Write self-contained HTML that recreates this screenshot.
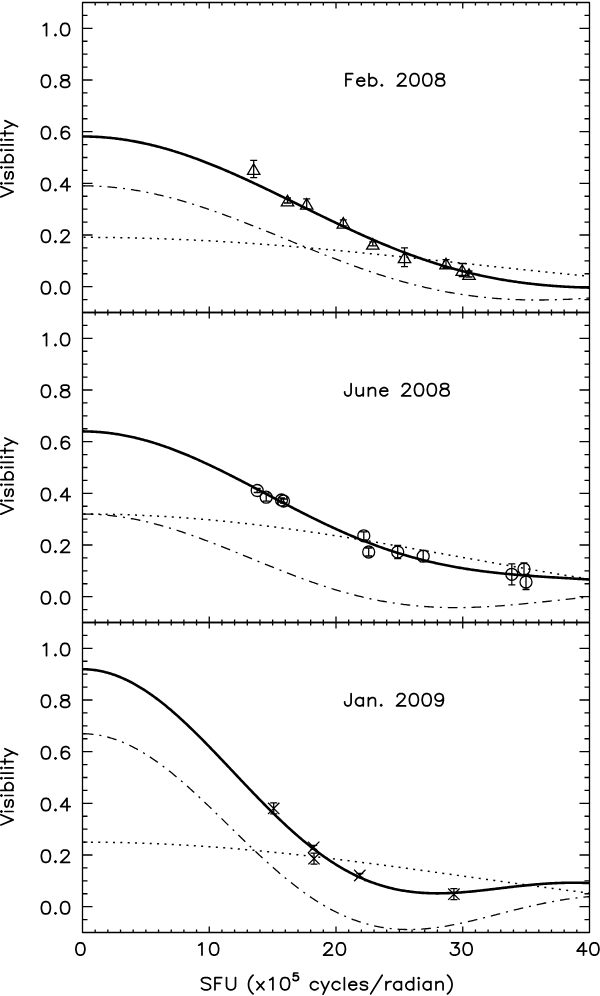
<!DOCTYPE html><html><head><meta charset="utf-8"><style>html,body{margin:0;padding:0;background:#fff;}svg{display:block;}text{font-family:"Liberation Sans",sans-serif;}</style></head><body>
<svg width="600" height="996" viewBox="0 0 600 996">
<rect width="600" height="996" fill="#fff"/>
<path d="M95.17,312.50v-3 M95.17,2.50v3 M107.85,312.50v-3 M107.85,2.50v3 M120.53,312.50v-3 M120.53,2.50v3 M133.20,312.50v-3 M133.20,2.50v3 M145.88,312.50v-3 M145.88,2.50v3 M158.55,312.50v-3 M158.55,2.50v3 M171.23,312.50v-3 M171.23,2.50v3 M183.90,312.50v-3 M183.90,2.50v3 M196.57,312.50v-3 M196.57,2.50v3 M209.25,312.50v-6 M209.25,2.50v6 M221.93,312.50v-3 M221.93,2.50v3 M234.60,312.50v-3 M234.60,2.50v3 M247.28,312.50v-3 M247.28,2.50v3 M259.95,312.50v-3 M259.95,2.50v3 M272.62,312.50v-3 M272.62,2.50v3 M285.30,312.50v-3 M285.30,2.50v3 M297.98,312.50v-3 M297.98,2.50v3 M310.65,312.50v-3 M310.65,2.50v3 M323.33,312.50v-3 M323.33,2.50v3 M336.00,312.50v-6 M336.00,2.50v6 M348.68,312.50v-3 M348.68,2.50v3 M361.35,312.50v-3 M361.35,2.50v3 M374.03,312.50v-3 M374.03,2.50v3 M386.70,312.50v-3 M386.70,2.50v3 M399.38,312.50v-3 M399.38,2.50v3 M412.05,312.50v-3 M412.05,2.50v3 M424.73,312.50v-3 M424.73,2.50v3 M437.40,312.50v-3 M437.40,2.50v3 M450.08,312.50v-3 M450.08,2.50v3 M462.75,312.50v-6 M462.75,2.50v6 M475.43,312.50v-3 M475.43,2.50v3 M488.10,312.50v-3 M488.10,2.50v3 M500.78,312.50v-3 M500.78,2.50v3 M513.45,312.50v-3 M513.45,2.50v3 M526.12,312.50v-3 M526.12,2.50v3 M538.80,312.50v-3 M538.80,2.50v3 M551.48,312.50v-3 M551.48,2.50v3 M564.15,312.50v-3 M564.15,2.50v3 M576.83,312.50v-3 M576.83,2.50v3 M82.50,299.58h5 M589.50,299.58h-5 M82.50,286.67h10 M589.50,286.67h-10 M82.50,273.75h5 M589.50,273.75h-5 M82.50,260.83h5 M589.50,260.83h-5 M82.50,247.92h5 M589.50,247.92h-5 M82.50,235.00h10 M589.50,235.00h-10 M82.50,222.08h5 M589.50,222.08h-5 M82.50,209.17h5 M589.50,209.17h-5 M82.50,196.25h5 M589.50,196.25h-5 M82.50,183.33h10 M589.50,183.33h-10 M82.50,170.42h5 M589.50,170.42h-5 M82.50,157.50h5 M589.50,157.50h-5 M82.50,144.58h5 M589.50,144.58h-5 M82.50,131.67h10 M589.50,131.67h-10 M82.50,118.75h5 M589.50,118.75h-5 M82.50,105.83h5 M589.50,105.83h-5 M82.50,92.92h5 M589.50,92.92h-5 M82.50,80.00h10 M589.50,80.00h-10 M82.50,67.08h5 M589.50,67.08h-5 M82.50,54.17h5 M589.50,54.17h-5 M82.50,41.25h5 M589.50,41.25h-5 M82.50,28.33h10 M589.50,28.33h-10 M82.50,15.42h5 M589.50,15.42h-5" stroke="#000" stroke-width="1.3" fill="none"/>
<rect x="82.5" y="2.5" width="507.0" height="310.0" stroke="#000" stroke-width="1.3" fill="none" stroke-linejoin="round"/>
<path d="M82.50,136.50 L83.77,136.50 85.03,136.51 86.30,136.52 87.57,136.54 88.84,136.57 90.11,136.60 91.37,136.64 92.64,136.69 93.91,136.74 95.17,136.79 96.44,136.85 97.71,136.92 98.98,136.99 100.25,137.07 101.51,137.16 102.78,137.25 104.05,137.34 105.31,137.45 106.58,137.55 107.85,137.67 109.12,137.79 110.39,137.91 111.65,138.04 112.92,138.18 114.19,138.32 115.46,138.47 116.72,138.63 117.99,138.79 119.26,138.95 120.53,139.12 121.79,139.30 123.06,139.48 124.33,139.67 125.59,139.86 126.86,140.06 128.13,140.26 129.40,140.47 130.67,140.69 131.93,140.91 133.20,141.14 134.47,141.37 135.74,141.61 137.00,141.85 138.27,142.10 139.54,142.35 140.81,142.61 142.07,142.87 143.34,143.14 144.61,143.42 145.88,143.70 147.14,143.98 148.41,144.27 149.68,144.57 150.94,144.87 152.21,145.17 153.48,145.48 154.75,145.80 156.02,146.12 157.28,146.44 158.55,146.78 159.82,147.11 161.09,147.45 162.35,147.80 163.62,148.15 164.89,148.50 166.16,148.86 167.42,149.23 168.69,149.59 169.96,149.97 171.23,150.35 172.49,150.73 173.76,151.12 175.03,151.51 176.30,151.91 177.56,152.31 178.83,152.71 180.10,153.12 181.37,153.54 182.63,153.95 183.90,154.38 185.17,154.80 186.44,155.23 187.70,155.67 188.97,156.11 190.24,156.55 191.50,157.00 192.77,157.45 194.04,157.91 195.31,158.37 196.57,158.83 197.84,159.30 199.11,159.77 200.38,160.24 201.65,160.72 202.91,161.20 204.18,161.69 205.45,162.18 206.72,162.67 207.98,163.17 209.25,163.67 210.52,164.17 211.79,164.67 213.05,165.18 214.32,165.70 215.59,166.21 216.86,166.73 218.12,167.26 219.39,167.78 220.66,168.31 221.93,168.84 223.19,169.38 224.46,169.91 225.73,170.45 227.00,171.00 228.26,171.54 229.53,172.09 230.80,172.64 232.07,173.20 233.33,173.75 234.60,174.31 235.87,174.87 237.14,175.44 238.40,176.00 239.67,176.57 240.94,177.14 242.21,177.72 243.47,178.29 244.74,178.87 246.01,179.45 247.28,180.03 248.54,180.61 249.81,181.20 251.08,181.79 252.35,182.38 253.61,182.97 254.88,183.56 256.15,184.15 257.42,184.75 258.68,185.35 259.95,185.95 261.22,186.55 262.49,187.15 263.75,187.75 265.02,188.36 266.29,188.97 267.56,189.57 268.82,190.18 270.09,190.79 271.36,191.40 272.62,192.02 273.89,192.63 275.16,193.24 276.43,193.86 277.70,194.47 278.96,195.09 280.23,195.71 281.50,196.32 282.76,196.94 284.03,197.56 285.30,198.18 286.57,198.80 287.84,199.42 289.10,200.04 290.37,200.67 291.64,201.29 292.91,201.91 294.17,202.53 295.44,203.15 296.71,203.78 297.98,204.40 299.24,205.02 300.51,205.65 301.78,206.27 303.05,206.89 304.31,207.51 305.58,208.14 306.85,208.76 308.12,209.38 309.38,210.00 310.65,210.62 311.92,211.24 313.19,211.86 314.45,212.48 315.72,213.10 316.99,213.72 318.25,214.33 319.52,214.95 320.79,215.57 322.06,216.18 323.33,216.80 324.59,217.41 325.86,218.02 327.13,218.63 328.40,219.24 329.66,219.85 330.93,220.46 332.20,221.07 333.47,221.68 334.73,222.28 336.00,222.88 337.27,223.49 338.54,224.09 339.80,224.69 341.07,225.28 342.34,225.88 343.61,226.48 344.87,227.07 346.14,227.66 347.41,228.25 348.68,228.84 349.94,229.43 351.21,230.01 352.48,230.59 353.75,231.18 355.01,231.76 356.28,232.33 357.55,232.91 358.81,233.48 360.08,234.05 361.35,234.62 362.62,235.19 363.89,235.76 365.15,236.32 366.42,236.88 367.69,237.44 368.96,238.00 370.22,238.55 371.49,239.10 372.76,239.65 374.03,240.20 375.29,240.75 376.56,241.29 377.83,241.83 379.10,242.37 380.36,242.90 381.63,243.43 382.90,243.96 384.17,244.49 385.43,245.02 386.70,245.54 387.97,246.06 389.24,246.57 390.50,247.09 391.77,247.60 393.04,248.11 394.31,248.61 395.57,249.12 396.84,249.62 398.11,250.11 399.38,250.61 400.64,251.10 401.91,251.59 403.18,252.07 404.45,252.55 405.71,253.03 406.98,253.51 408.25,253.98 409.52,254.45 410.78,254.92 412.05,255.38 413.32,255.84 414.59,256.30 415.85,256.75 417.12,257.20 418.39,257.65 419.66,258.10 420.92,258.54 422.19,258.98 423.46,259.41 424.73,259.84 425.99,260.27 427.26,260.69 428.53,261.12 429.80,261.53 431.06,261.95 432.33,262.36 433.60,262.77 434.87,263.17 436.13,263.57 437.40,263.97 438.67,264.37 439.94,264.76 441.20,265.14 442.47,265.53 443.74,265.91 445.01,266.29 446.27,266.66 447.54,267.03 448.81,267.40 450.08,267.76 451.34,268.12 452.61,268.47 453.88,268.83 455.15,269.18 456.41,269.52 457.68,269.86 458.95,270.20 460.22,270.54 461.48,270.87 462.75,271.20 464.02,271.52 465.29,271.84 466.55,272.16 467.82,272.47 469.09,272.78 470.36,273.09 471.62,273.39 472.89,273.69 474.16,273.99 475.43,274.28 476.69,274.57 477.96,274.86 479.23,275.14 480.50,275.42 481.76,275.69 483.03,275.97 484.30,276.23 485.57,276.50 486.83,276.76 488.10,277.02 489.37,277.27 490.64,277.52 491.90,277.77 493.17,278.02 494.44,278.26 495.71,278.49 496.97,278.73 498.24,278.96 499.51,279.19 500.78,279.41 502.04,279.63 503.31,279.85 504.58,280.06 505.85,280.27 507.11,280.48 508.38,280.68 509.65,280.88 510.92,281.08 512.18,281.27 513.45,281.46 514.72,281.65 515.99,281.83 517.25,282.01 518.52,282.19 519.79,282.37 521.06,282.54 522.32,282.71 523.59,282.87 524.86,283.03 526.12,283.19 527.39,283.35 528.66,283.50 529.93,283.65 531.19,283.80 532.46,283.94 533.73,284.08 535.00,284.22 536.27,284.35 537.53,284.48 538.80,284.61 540.07,284.74 541.34,284.86 542.60,284.98 543.87,285.10 545.14,285.21 546.40,285.33 547.67,285.43 548.94,285.54 550.21,285.64 551.48,285.74 552.74,285.84 554.01,285.94 555.28,286.03 556.55,286.12 557.81,286.21 559.08,286.29 560.35,286.38 561.62,286.46 562.88,286.53 564.15,286.61 565.42,286.68 566.69,286.75 567.95,286.82 569.22,286.88 570.49,286.95 571.76,287.01 573.02,287.07 574.29,287.12 575.56,287.18 576.83,287.23 578.09,287.28 579.36,287.32 580.63,287.37 581.90,287.41 583.16,287.45 584.43,287.49 585.70,287.53 586.97,287.56 588.23,287.60 589.50,287.63" stroke="#000" stroke-width="2.6" fill="none" stroke-linejoin="round"/>
<path d="M82.50,185.81h2" stroke="#000" stroke-width="1.3"/>
<path d="M82.50,185.81 L83.77,185.82 85.03,185.82 86.30,185.84 87.57,185.85 88.84,185.88 90.11,185.91 91.37,185.94 92.64,185.98 93.91,186.02 95.17,186.07 96.44,186.12 97.71,186.18 98.98,186.25 100.25,186.32 101.51,186.39 102.78,186.47 104.05,186.56 105.31,186.65 106.58,186.74 107.85,186.84 109.12,186.95 110.39,187.06 111.65,187.17 112.92,187.29 114.19,187.42 115.46,187.55 116.72,187.68 117.99,187.82 119.26,187.97 120.53,188.12 121.79,188.27 123.06,188.43 124.33,188.59 125.59,188.76 126.86,188.94 128.13,189.12 129.40,189.30 130.67,189.49 131.93,189.68 133.20,189.88 134.47,190.09 135.74,190.29 137.00,190.51 138.27,190.72 139.54,190.94 140.81,191.17 142.07,191.40 143.34,191.64 144.61,191.88 145.88,192.12 147.14,192.37 148.41,192.63 149.68,192.88 150.94,193.15 152.21,193.41 153.48,193.68 154.75,193.96 156.02,194.24 157.28,194.52 158.55,194.81 159.82,195.11 161.09,195.40 162.35,195.70 163.62,196.01 164.89,196.32 166.16,196.63 167.42,196.95 168.69,197.27 169.96,197.60 171.23,197.93 172.49,198.26 173.76,198.60 175.03,198.94 176.30,199.29 177.56,199.64 178.83,199.99 180.10,200.34 181.37,200.71 182.63,201.07 183.90,201.44 185.17,201.81 186.44,202.18 187.70,202.56 188.97,202.94 190.24,203.33 191.50,203.72 192.77,204.11 194.04,204.50 195.31,204.90 196.57,205.30 197.84,205.71 199.11,206.11 200.38,206.53 201.65,206.94 202.91,207.36 204.18,207.78 205.45,208.20 206.72,208.63 207.98,209.06 209.25,209.49 210.52,209.92 211.79,210.36 213.05,210.80 214.32,211.24 215.59,211.69 216.86,212.13 218.12,212.59 219.39,213.04 220.66,213.49 221.93,213.95 223.19,214.41 224.46,214.87 225.73,215.34 227.00,215.81 228.26,216.27 229.53,216.75 230.80,217.22 232.07,217.69 233.33,218.17 234.60,218.65 235.87,219.13 237.14,219.61 238.40,220.10 239.67,220.59 240.94,221.07 242.21,221.56 243.47,222.06 244.74,222.55 246.01,223.04 247.28,223.54 248.54,224.04 249.81,224.54 251.08,225.04 252.35,225.54 253.61,226.04 254.88,226.55 256.15,227.05 257.42,227.56 258.68,228.06 259.95,228.57 261.22,229.08 262.49,229.59 263.75,230.10 265.02,230.62 266.29,231.13 267.56,231.64 268.82,232.16 270.09,232.67 271.36,233.19 272.62,233.70 273.89,234.22 275.16,234.74 276.43,235.26 277.70,235.77 278.96,236.29 280.23,236.81 281.50,237.33 282.76,237.85 284.03,238.37 285.30,238.89 286.57,239.40 287.84,239.92 289.10,240.44 290.37,240.96 291.64,241.48 292.91,242.00 294.17,242.52 295.44,243.03 296.71,243.55 297.98,244.07 299.24,244.59 300.51,245.10 301.78,245.62 303.05,246.13 304.31,246.65 305.58,247.16 306.85,247.68 308.12,248.19 309.38,248.70 310.65,249.21 311.92,249.72 313.19,250.23 314.45,250.74 315.72,251.25 316.99,251.76 318.25,252.26 319.52,252.77 320.79,253.27 322.06,253.77 323.33,254.27 324.59,254.77 325.86,255.27 327.13,255.77 328.40,256.26 329.66,256.76 330.93,257.25 332.20,257.74 333.47,258.23 334.73,258.72 336.00,259.20 337.27,259.69 338.54,260.17 339.80,260.65 341.07,261.13 342.34,261.61 343.61,262.08 344.87,262.56 346.14,263.03 347.41,263.50 348.68,263.97 349.94,264.43 351.21,264.90 352.48,265.36 353.75,265.82 355.01,266.28 356.28,266.73 357.55,267.18 358.81,267.64 360.08,268.08 361.35,268.53 362.62,268.97 363.89,269.42 365.15,269.85 366.42,270.29 367.69,270.72 368.96,271.16 370.22,271.59 371.49,272.01 372.76,272.44 374.03,272.86 375.29,273.28 376.56,273.69 377.83,274.10 379.10,274.51 380.36,274.92 381.63,275.33 382.90,275.73 384.17,276.13 385.43,276.53 386.70,276.92 387.97,277.31 389.24,277.70 390.50,278.08 391.77,278.46 393.04,278.84 394.31,279.22 395.57,279.59 396.84,279.96 398.11,280.33 399.38,280.69 400.64,281.05 401.91,281.41 403.18,281.76 404.45,282.11 405.71,282.46 406.98,282.80 408.25,283.15 409.52,283.48 410.78,283.82 412.05,284.15 413.32,284.48 414.59,284.80 415.85,285.12 417.12,285.44 418.39,285.76 419.66,286.07 420.92,286.38 422.19,286.68 423.46,286.98 424.73,287.28 425.99,287.58 427.26,287.87 428.53,288.15 429.80,288.44 431.06,288.72 432.33,289.00 433.60,289.27 434.87,289.54 436.13,289.81 437.40,290.07 438.67,290.33 439.94,290.59 441.20,290.84 442.47,291.09 443.74,291.33 445.01,291.58 446.27,291.82 447.54,292.05 448.81,292.28 450.08,292.51 451.34,292.74 452.61,292.96 453.88,293.17 455.15,293.39 456.41,293.60 457.68,293.81 458.95,294.01 460.22,294.21 461.48,294.40 462.75,294.60 464.02,294.79 465.29,294.97 466.55,295.15 467.82,295.33 469.09,295.51 470.36,295.68 471.62,295.85 472.89,296.01 474.16,296.17 475.43,296.33 476.69,296.49 477.96,296.64 479.23,296.78 480.50,296.93 481.76,297.07 483.03,297.20 484.30,297.34 485.57,297.47 486.83,297.59 488.10,297.72 489.37,297.84 490.64,297.95 491.90,298.07 493.17,298.18 494.44,298.28 495.71,298.39 496.97,298.48 498.24,298.58 499.51,298.67 500.78,298.76 502.04,298.85 503.31,298.93 504.58,299.01 505.85,299.09 507.11,299.16 508.38,299.23 509.65,299.30 510.92,299.36 512.18,299.43 513.45,299.48 514.72,299.54 515.99,299.59 517.25,299.64 518.52,299.68 519.79,299.72 521.06,299.76 522.32,299.80 523.59,299.83 524.86,299.86 526.12,299.89 527.39,299.92 528.66,299.94 529.93,299.96 531.19,299.97 532.46,299.98 533.73,299.99 535.00,300.00 536.27,300.01 537.53,300.01 538.80,300.01 540.07,300.00 541.34,300.00 542.60,299.99 543.87,299.98 545.14,299.96 546.40,299.94 547.67,299.92 548.94,299.90 550.21,299.88 551.48,299.85 552.74,299.82 554.01,299.79 555.28,299.76 556.55,299.72 557.81,299.68 559.08,299.64 560.35,299.59 561.62,299.55 562.88,299.50 564.15,299.45 565.42,299.40 566.69,299.34 567.95,299.29 569.22,299.23 570.49,299.16 571.76,299.10 573.02,299.04 574.29,298.97 575.56,298.90 576.83,298.83 578.09,298.75 579.36,298.68 580.63,298.60 581.90,298.52 583.16,298.44 584.43,298.36 585.70,298.28 586.97,298.19 588.23,298.10 589.50,298.01" stroke="#000" stroke-width="1.3" fill="none" stroke-dasharray="9.7 5.98 2 5.97" stroke-dashoffset="-1.3"/>
<path d="M82.50,237.35 L83.77,237.35 85.03,237.35 86.30,237.35 87.57,237.36 88.84,237.36 90.11,237.36 91.37,237.37 92.64,237.37 93.91,237.38 95.17,237.39 96.44,237.39 97.71,237.40 98.98,237.41 100.25,237.42 101.51,237.43 102.78,237.44 104.05,237.45 105.31,237.47 106.58,237.48 107.85,237.49 109.12,237.51 110.39,237.52 111.65,237.54 112.92,237.56 114.19,237.57 115.46,237.59 116.72,237.61 117.99,237.63 119.26,237.65 120.53,237.67 121.79,237.69 123.06,237.72 124.33,237.74 125.59,237.76 126.86,237.79 128.13,237.81 129.40,237.84 130.67,237.87 131.93,237.89 133.20,237.92 134.47,237.95 135.74,237.98 137.00,238.01 138.27,238.04 139.54,238.07 140.81,238.10 142.07,238.14 143.34,238.17 144.61,238.21 145.88,238.24 147.14,238.28 148.41,238.31 149.68,238.35 150.94,238.39 152.21,238.43 153.48,238.46 154.75,238.50 156.02,238.55 157.28,238.59 158.55,238.63 159.82,238.67 161.09,238.71 162.35,238.76 163.62,238.80 164.89,238.85 166.16,238.89 167.42,238.94 168.69,238.99 169.96,239.04 171.23,239.08 172.49,239.13 173.76,239.18 175.03,239.23 176.30,239.29 177.56,239.34 178.83,239.39 180.10,239.44 181.37,239.50 182.63,239.55 183.90,239.61 185.17,239.66 186.44,239.72 187.70,239.78 188.97,239.83 190.24,239.89 191.50,239.95 192.77,240.01 194.04,240.07 195.31,240.13 196.57,240.19 197.84,240.26 199.11,240.32 200.38,240.38 201.65,240.45 202.91,240.51 204.18,240.58 205.45,240.64 206.72,240.71 207.98,240.78 209.25,240.84 210.52,240.91 211.79,240.98 213.05,241.05 214.32,241.12 215.59,241.19 216.86,241.26 218.12,241.34 219.39,241.41 220.66,241.48 221.93,241.56 223.19,241.63 224.46,241.71 225.73,241.78 227.00,241.86 228.26,241.94 229.53,242.01 230.80,242.09 232.07,242.17 233.33,242.25 234.60,242.33 235.87,242.41 237.14,242.49 238.40,242.57 239.67,242.65 240.94,242.74 242.21,242.82 243.47,242.90 244.74,242.99 246.01,243.07 247.28,243.16 248.54,243.24 249.81,243.33 251.08,243.42 252.35,243.50 253.61,243.59 254.88,243.68 256.15,243.77 257.42,243.86 258.68,243.95 259.95,244.04 261.22,244.13 262.49,244.22 263.75,244.32 265.02,244.41 266.29,244.50 267.56,244.60 268.82,244.69 270.09,244.79 271.36,244.88 272.62,244.98 273.89,245.07 275.16,245.17 276.43,245.27 277.70,245.37 278.96,245.46 280.23,245.56 281.50,245.66 282.76,245.76 284.03,245.86 285.30,245.96 286.57,246.06 287.84,246.17 289.10,246.27 290.37,246.37 291.64,246.47 292.91,246.58 294.17,246.68 295.44,246.79 296.71,246.89 297.98,247.00 299.24,247.10 300.51,247.21 301.78,247.32 303.05,247.42 304.31,247.53 305.58,247.64 306.85,247.75 308.12,247.85 309.38,247.96 310.65,248.07 311.92,248.18 313.19,248.29 314.45,248.40 315.72,248.52 316.99,248.63 318.25,248.74 319.52,248.85 320.79,248.97 322.06,249.08 323.33,249.19 324.59,249.31 325.86,249.42 327.13,249.53 328.40,249.65 329.66,249.77 330.93,249.88 332.20,250.00 333.47,250.11 334.73,250.23 336.00,250.35 337.27,250.47 338.54,250.58 339.80,250.70 341.07,250.82 342.34,250.94 343.61,251.06 344.87,251.18 346.14,251.30 347.41,251.42 348.68,251.54 349.94,251.66 351.21,251.78 352.48,251.90 353.75,252.02 355.01,252.15 356.28,252.27 357.55,252.39 358.81,252.51 360.08,252.64 361.35,252.76 362.62,252.88 363.89,253.01 365.15,253.13 366.42,253.26 367.69,253.38 368.96,253.51 370.22,253.63 371.49,253.76 372.76,253.89 374.03,254.01 375.29,254.14 376.56,254.26 377.83,254.39 379.10,254.52 380.36,254.65 381.63,254.77 382.90,254.90 384.17,255.03 385.43,255.16 386.70,255.29 387.97,255.42 389.24,255.54 390.50,255.67 391.77,255.80 393.04,255.93 394.31,256.06 395.57,256.19 396.84,256.32 398.11,256.45 399.38,256.58 400.64,256.71 401.91,256.85 403.18,256.98 404.45,257.11 405.71,257.24 406.98,257.37 408.25,257.50 409.52,257.63 410.78,257.77 412.05,257.90 413.32,258.03 414.59,258.16 415.85,258.30 417.12,258.43 418.39,258.56 419.66,258.69 420.92,258.83 422.19,258.96 423.46,259.09 424.73,259.23 425.99,259.36 427.26,259.49 428.53,259.63 429.80,259.76 431.06,259.90 432.33,260.03 433.60,260.16 434.87,260.30 436.13,260.43 437.40,260.57 438.67,260.70 439.94,260.84 441.20,260.97 442.47,261.11 443.74,261.24 445.01,261.38 446.27,261.51 447.54,261.65 448.81,261.78 450.08,261.92 451.34,262.05 452.61,262.19 453.88,262.32 455.15,262.46 456.41,262.59 457.68,262.73 458.95,262.86 460.22,263.00 461.48,263.13 462.75,263.27 464.02,263.40 465.29,263.54 466.55,263.67 467.82,263.81 469.09,263.94 470.36,264.08 471.62,264.21 472.89,264.35 474.16,264.48 475.43,264.62 476.69,264.75 477.96,264.89 479.23,265.02 480.50,265.16 481.76,265.29 483.03,265.43 484.30,265.56 485.57,265.70 486.83,265.83 488.10,265.97 489.37,266.10 490.64,266.24 491.90,266.37 493.17,266.51 494.44,266.64 495.71,266.78 496.97,266.91 498.24,267.04 499.51,267.18 500.78,267.31 502.04,267.45 503.31,267.58 504.58,267.71 505.85,267.85 507.11,267.98 508.38,268.11 509.65,268.25 510.92,268.38 512.18,268.51 513.45,268.65 514.72,268.78 515.99,268.91 517.25,269.04 518.52,269.18 519.79,269.31 521.06,269.44 522.32,269.57 523.59,269.70 524.86,269.84 526.12,269.97 527.39,270.10 528.66,270.23 529.93,270.36 531.19,270.49 532.46,270.62 533.73,270.75 535.00,270.88 536.27,271.01 537.53,271.14 538.80,271.27 540.07,271.40 541.34,271.53 542.60,271.66 543.87,271.79 545.14,271.92 546.40,272.05 547.67,272.18 548.94,272.30 550.21,272.43 551.48,272.56 552.74,272.69 554.01,272.82 555.28,272.94 556.55,273.07 557.81,273.20 559.08,273.32 560.35,273.45 561.62,273.57 562.88,273.70 564.15,273.83 565.42,273.95 566.69,274.08 567.95,274.20 569.22,274.33 570.49,274.45 571.76,274.57 573.02,274.70 574.29,274.82 575.56,274.94 576.83,275.07 578.09,275.19 579.36,275.31 580.63,275.43 581.90,275.56 583.16,275.68 584.43,275.80 585.70,275.92 586.97,276.04 588.23,276.16 589.50,276.28" stroke="#000" stroke-width="1.5" fill="none" stroke-dasharray="2 5.3556" stroke-dashoffset="-1.05"/>
<path d="M247.50,174.30L253.70,163.70L259.90,174.30ZM253.70,160.30V177.70M250.20,160.30h7M250.20,177.70h7M281.30,205.80L287.50,195.20L293.70,205.80ZM287.50,198.00V203.00M284.00,198.00h7M284.00,203.00h7M300.50,209.10L306.70,198.50L312.90,209.10ZM306.70,198.80V208.80M303.20,198.80h7M303.20,208.80h7M337.10,228.10L343.30,217.50L349.50,228.10ZM343.30,219.80V225.80M339.80,219.80h7M339.80,225.80h7M366.60,249.20L372.80,238.60L379.00,249.20ZM372.80,241.90V245.90M369.30,241.90h7M369.30,245.90h7M398.30,262.60L404.50,252.00L410.70,262.60ZM404.50,247.90V266.70M401.00,247.90h7M401.00,266.70h7M439.80,268.90L446.00,258.30L452.20,268.90ZM446.00,259.60V267.60M442.50,259.60h7M442.50,267.60h7M456.00,275.30L462.20,264.70L468.40,275.30ZM462.20,263.50V276.50M458.70,263.50h7M458.70,276.50h7M462.80,279.30L469.00,268.70L475.20,279.30ZM469.00,271.00V277.00M465.50,271.00h7M465.50,277.00h7" stroke="#000" stroke-width="1.3" fill="none"/>
<path d="M45.23,281.70L43.31,282.29 42.03,284.04 41.39,286.96 41.39,288.71 42.03,291.63 43.31,293.38 45.23,293.97 46.51,293.97 48.43,293.38 49.72,291.63 50.36,288.71 50.36,286.96 49.72,284.04 48.43,282.29 46.51,281.70 45.23,281.70M55.48,292.80L54.84,293.38 55.48,293.97 56.12,293.38 55.48,292.80M64.45,281.70L62.53,282.29 61.25,284.04 60.61,286.96 60.61,288.71 61.25,291.63 62.53,293.38 64.45,293.97 65.73,293.97 67.66,293.38 68.94,291.63 69.58,288.71 69.58,286.96 68.94,284.04 67.66,282.29 65.73,281.70 64.45,281.70M45.23,230.04L43.31,230.62 42.03,232.37 41.39,235.29 41.39,237.04 42.03,239.96 43.31,241.72 45.23,242.30 46.51,242.30 48.43,241.72 49.72,239.96 50.36,237.04 50.36,235.29 49.72,232.37 48.43,230.62 46.51,230.04 45.23,230.04M55.48,241.13L54.84,241.72 55.48,242.30 56.12,241.72 55.48,241.13M61.25,232.96L61.25,232.37 61.89,231.20 62.53,230.62 63.81,230.04 66.37,230.04 67.66,230.62 68.30,231.20 68.94,232.37 68.94,233.54 68.30,234.71 67.02,236.46 60.61,242.30 69.58,242.30M45.23,178.37L43.31,178.95 42.03,180.71 41.39,183.63 41.39,185.38 42.03,188.30 43.31,190.05 45.23,190.63 46.51,190.63 48.43,190.05 49.72,188.30 50.36,185.38 50.36,183.63 49.72,180.71 48.43,178.95 46.51,178.37 45.23,178.37M55.48,189.47L54.84,190.05 55.48,190.63 56.12,190.05 55.48,189.47M67.02,178.37L60.61,186.55 70.22,186.55M67.02,178.37L67.02,190.63M45.23,126.70L43.31,127.29 42.03,129.04 41.39,131.96 41.39,133.71 42.03,136.63 43.31,138.38 45.23,138.97 46.51,138.97 48.43,138.38 49.72,136.63 50.36,133.71 50.36,131.96 49.72,129.04 48.43,127.29 46.51,126.70 45.23,126.70M55.48,137.80L54.84,138.38 55.48,138.97 56.12,138.38 55.48,137.80M68.94,128.45L68.30,127.29 66.37,126.70 65.09,126.70 63.17,127.29 61.89,129.04 61.25,131.96 61.25,134.88 61.89,137.21 63.17,138.38 65.09,138.97 65.73,138.97 67.66,138.38 68.94,137.21 69.58,135.46 69.58,134.88 68.94,133.13 67.66,131.96 65.73,131.37 65.09,131.37 63.17,131.96 61.89,133.13 61.25,134.88M45.23,75.04L43.31,75.62 42.03,77.37 41.39,80.29 41.39,82.04 42.03,84.96 43.31,86.72 45.23,87.30 46.51,87.30 48.43,86.72 49.72,84.96 50.36,82.04 50.36,80.29 49.72,77.37 48.43,75.62 46.51,75.04 45.23,75.04M55.48,86.13L54.84,86.72 55.48,87.30 56.12,86.72 55.48,86.13M63.81,75.04L61.89,75.62 61.25,76.79 61.25,77.96 61.89,79.12 63.17,79.71 65.73,80.29 67.66,80.88 68.94,82.04 69.58,83.21 69.58,84.96 68.94,86.13 68.30,86.72 66.37,87.30 63.81,87.30 61.89,86.72 61.25,86.13 60.61,84.96 60.61,83.21 61.25,82.04 62.53,80.88 64.45,80.29 67.02,79.71 68.30,79.12 68.94,77.96 68.94,76.79 68.30,75.62 66.37,75.04 63.81,75.04M43.31,25.71L44.59,25.12 46.51,23.37 46.51,35.63M55.48,34.47L54.84,35.05 55.48,35.63 56.12,35.05 55.48,34.47M64.45,23.37L62.53,23.95 61.25,25.71 60.61,28.63 60.61,30.38 61.25,33.30 62.53,35.05 64.45,35.63 65.73,35.63 67.66,35.05 68.94,33.30 69.58,30.38 69.58,28.63 68.94,25.71 67.66,23.95 65.73,23.37 64.45,23.37M0.84,196.86L13.10,191.73M0.84,186.61L13.10,191.73M1.42,184.05L2.00,183.40 1.42,182.76 0.84,183.40 1.42,184.05M4.92,183.40L13.10,183.40M6.68,171.87L5.51,172.51 4.92,174.43 4.92,176.36 5.51,178.28 6.68,178.92 7.84,178.28 8.43,177.00 9.01,173.79 9.60,172.51 10.76,171.87 11.35,171.87 12.52,172.51 13.10,174.43 13.10,176.36 12.52,178.28 11.35,178.92M1.42,168.03L2.00,167.39 1.42,166.75 0.84,167.39 1.42,168.03M4.92,167.39L13.10,167.39M0.84,162.26L13.10,162.26M6.68,162.26L5.51,160.98 4.92,159.70 4.92,157.78 5.51,156.50 6.68,155.21 8.43,154.57 9.60,154.57 11.35,155.21 12.52,156.50 13.10,157.78 13.10,159.70 12.52,160.98 11.35,162.26M1.42,150.73L2.00,150.09 1.42,149.45 0.84,150.09 1.42,150.73M4.92,150.09L13.10,150.09M0.84,144.96L13.10,144.96M1.42,140.48L2.00,139.84 1.42,139.20 0.84,139.84 1.42,140.48M4.92,139.84L13.10,139.84M0.84,133.43L13.10,133.43M4.92,135.99L4.92,130.87M4.92,128.30L13.10,124.46M4.92,120.62L17.48,126.51M345.96,73.64L345.96,85.90M345.96,73.64L352.69,73.64M345.96,79.48L351.09,79.48M356.85,81.23L364.54,81.23 364.54,80.06 363.90,78.89 363.26,78.31 361.98,77.72 360.06,77.72 358.78,78.31 357.50,79.48 356.85,81.23 356.85,82.40 357.50,84.15 358.78,85.32 360.06,85.90 361.98,85.90 363.26,85.32 364.54,84.15M369.03,73.64L369.03,85.90M369.03,79.48L370.31,78.31 371.59,77.72 373.51,77.72 374.79,78.31 376.08,79.48 376.72,81.23 376.72,82.40 376.08,84.15 374.79,85.32 373.51,85.90 371.59,85.90 370.31,85.32 369.03,84.15M381.84,84.73L381.20,85.32 381.84,85.90 382.48,85.32 381.84,84.73M397.86,76.56L397.86,75.97 398.50,74.80 399.14,74.22 400.42,73.64 402.99,73.64 404.27,74.22 404.91,74.80 405.55,75.97 405.55,77.14 404.91,78.31 403.63,80.06 397.22,85.90 406.19,85.90M413.88,73.64L411.95,74.22 410.67,75.97 410.03,78.89 410.03,80.64 410.67,83.56 411.95,85.32 413.88,85.90 415.16,85.90 417.08,85.32 418.36,83.56 419.00,80.64 419.00,78.89 418.36,75.97 417.08,74.22 415.16,73.64 413.88,73.64M426.69,73.64L424.77,74.22 423.49,75.97 422.85,78.89 422.85,80.64 423.49,83.56 424.77,85.32 426.69,85.90 427.97,85.90 429.89,85.32 431.18,83.56 431.82,80.64 431.82,78.89 431.18,75.97 429.89,74.22 427.97,73.64 426.69,73.64M438.86,73.64L436.94,74.22 436.30,75.39 436.30,76.56 436.94,77.72 438.22,78.31 440.79,78.89 442.71,79.48 443.99,80.64 444.63,81.81 444.63,83.56 443.99,84.73 443.35,85.32 441.43,85.90 438.86,85.90 436.94,85.32 436.30,84.73 435.66,83.56 435.66,81.81 436.30,80.64 437.58,79.48 439.50,78.89 442.07,78.31 443.35,77.72 443.99,76.56 443.99,75.39 443.35,74.22 441.43,73.64 438.86,73.64" stroke="#000" stroke-width="1.73" fill="none" stroke-linecap="round" stroke-linejoin="round"/>
<path d="M95.17,622.50v-3 M95.17,312.50v3 M107.85,622.50v-3 M107.85,312.50v3 M120.53,622.50v-3 M120.53,312.50v3 M133.20,622.50v-3 M133.20,312.50v3 M145.88,622.50v-3 M145.88,312.50v3 M158.55,622.50v-3 M158.55,312.50v3 M171.23,622.50v-3 M171.23,312.50v3 M183.90,622.50v-3 M183.90,312.50v3 M196.57,622.50v-3 M196.57,312.50v3 M209.25,622.50v-6 M209.25,312.50v6 M221.93,622.50v-3 M221.93,312.50v3 M234.60,622.50v-3 M234.60,312.50v3 M247.28,622.50v-3 M247.28,312.50v3 M259.95,622.50v-3 M259.95,312.50v3 M272.62,622.50v-3 M272.62,312.50v3 M285.30,622.50v-3 M285.30,312.50v3 M297.98,622.50v-3 M297.98,312.50v3 M310.65,622.50v-3 M310.65,312.50v3 M323.33,622.50v-3 M323.33,312.50v3 M336.00,622.50v-6 M336.00,312.50v6 M348.68,622.50v-3 M348.68,312.50v3 M361.35,622.50v-3 M361.35,312.50v3 M374.03,622.50v-3 M374.03,312.50v3 M386.70,622.50v-3 M386.70,312.50v3 M399.38,622.50v-3 M399.38,312.50v3 M412.05,622.50v-3 M412.05,312.50v3 M424.73,622.50v-3 M424.73,312.50v3 M437.40,622.50v-3 M437.40,312.50v3 M450.08,622.50v-3 M450.08,312.50v3 M462.75,622.50v-6 M462.75,312.50v6 M475.43,622.50v-3 M475.43,312.50v3 M488.10,622.50v-3 M488.10,312.50v3 M500.78,622.50v-3 M500.78,312.50v3 M513.45,622.50v-3 M513.45,312.50v3 M526.12,622.50v-3 M526.12,312.50v3 M538.80,622.50v-3 M538.80,312.50v3 M551.48,622.50v-3 M551.48,312.50v3 M564.15,622.50v-3 M564.15,312.50v3 M576.83,622.50v-3 M576.83,312.50v3 M82.50,609.58h5 M589.50,609.58h-5 M82.50,596.67h10 M589.50,596.67h-10 M82.50,583.75h5 M589.50,583.75h-5 M82.50,570.83h5 M589.50,570.83h-5 M82.50,557.92h5 M589.50,557.92h-5 M82.50,545.00h10 M589.50,545.00h-10 M82.50,532.08h5 M589.50,532.08h-5 M82.50,519.17h5 M589.50,519.17h-5 M82.50,506.25h5 M589.50,506.25h-5 M82.50,493.33h10 M589.50,493.33h-10 M82.50,480.42h5 M589.50,480.42h-5 M82.50,467.50h5 M589.50,467.50h-5 M82.50,454.58h5 M589.50,454.58h-5 M82.50,441.67h10 M589.50,441.67h-10 M82.50,428.75h5 M589.50,428.75h-5 M82.50,415.83h5 M589.50,415.83h-5 M82.50,402.92h5 M589.50,402.92h-5 M82.50,390.00h10 M589.50,390.00h-10 M82.50,377.08h5 M589.50,377.08h-5 M82.50,364.17h5 M589.50,364.17h-5 M82.50,351.25h5 M589.50,351.25h-5 M82.50,338.33h10 M589.50,338.33h-10 M82.50,325.42h5 M589.50,325.42h-5" stroke="#000" stroke-width="1.3" fill="none"/>
<rect x="82.5" y="312.5" width="507.0" height="310.0" stroke="#000" stroke-width="1.3" fill="none" stroke-linejoin="round"/>
<path d="M82.50,431.41 L83.77,431.41 85.03,431.43 86.30,431.44 87.57,431.47 88.84,431.50 90.11,431.55 91.37,431.59 92.64,431.65 93.91,431.71 95.17,431.78 96.44,431.86 97.71,431.95 98.98,432.04 100.25,432.14 101.51,432.25 102.78,432.37 104.05,432.49 105.31,432.62 106.58,432.76 107.85,432.90 109.12,433.05 110.39,433.21 111.65,433.38 112.92,433.55 114.19,433.73 115.46,433.92 116.72,434.11 117.99,434.32 119.26,434.53 120.53,434.74 121.79,434.97 123.06,435.20 124.33,435.43 125.59,435.68 126.86,435.93 128.13,436.19 129.40,436.45 130.67,436.72 131.93,437.00 133.20,437.29 134.47,437.58 135.74,437.88 137.00,438.18 138.27,438.50 139.54,438.81 140.81,439.14 142.07,439.47 143.34,439.81 144.61,440.15 145.88,440.50 147.14,440.86 148.41,441.22 149.68,441.59 150.94,441.97 152.21,442.35 153.48,442.74 154.75,443.13 156.02,443.53 157.28,443.94 158.55,444.35 159.82,444.76 161.09,445.19 162.35,445.62 163.62,446.05 164.89,446.49 166.16,446.93 167.42,447.39 168.69,447.84 169.96,448.30 171.23,448.77 172.49,449.24 173.76,449.72 175.03,450.20 176.30,450.69 177.56,451.18 178.83,451.68 180.10,452.18 181.37,452.69 182.63,453.20 183.90,453.71 185.17,454.24 186.44,454.76 187.70,455.29 188.97,455.82 190.24,456.36 191.50,456.91 192.77,457.45 194.04,458.00 195.31,458.56 196.57,459.12 197.84,459.68 199.11,460.25 200.38,460.82 201.65,461.40 202.91,461.97 204.18,462.56 205.45,463.14 206.72,463.73 207.98,464.32 209.25,464.92 210.52,465.52 211.79,466.12 213.05,466.73 214.32,467.33 215.59,467.94 216.86,468.56 218.12,469.18 219.39,469.79 220.66,470.42 221.93,471.04 223.19,471.67 224.46,472.30 225.73,472.93 227.00,473.57 228.26,474.20 229.53,474.84 230.80,475.48 232.07,476.13 233.33,476.77 234.60,477.42 235.87,478.07 237.14,478.72 238.40,479.37 239.67,480.02 240.94,480.68 242.21,481.33 243.47,481.99 244.74,482.65 246.01,483.31 247.28,483.97 248.54,484.63 249.81,485.30 251.08,485.96 252.35,486.62 253.61,487.29 254.88,487.96 256.15,488.62 257.42,489.29 258.68,489.96 259.95,490.63 261.22,491.30 262.49,491.97 263.75,492.63 265.02,493.30 266.29,493.97 267.56,494.64 268.82,495.31 270.09,495.98 271.36,496.65 272.62,497.32 273.89,497.99 275.16,498.66 276.43,499.32 277.70,499.99 278.96,500.66 280.23,501.32 281.50,501.99 282.76,502.65 284.03,503.31 285.30,503.97 286.57,504.64 287.84,505.30 289.10,505.95 290.37,506.61 291.64,507.27 292.91,507.92 294.17,508.58 295.44,509.23 296.71,509.88 297.98,510.53 299.24,511.18 300.51,511.82 301.78,512.47 303.05,513.11 304.31,513.75 305.58,514.39 306.85,515.03 308.12,515.66 309.38,516.29 310.65,516.92 311.92,517.55 313.19,518.18 314.45,518.80 315.72,519.42 316.99,520.04 318.25,520.66 319.52,521.27 320.79,521.89 322.06,522.50 323.33,523.10 324.59,523.71 325.86,524.31 327.13,524.91 328.40,525.50 329.66,526.10 330.93,526.69 332.20,527.27 333.47,527.86 334.73,528.44 336.00,529.02 337.27,529.59 338.54,530.16 339.80,530.73 341.07,531.30 342.34,531.86 343.61,532.42 344.87,532.98 346.14,533.53 347.41,534.08 348.68,534.62 349.94,535.17 351.21,535.71 352.48,536.24 353.75,536.77 355.01,537.30 356.28,537.83 357.55,538.35 358.81,538.87 360.08,539.38 361.35,539.89 362.62,540.40 363.89,540.90 365.15,541.40 366.42,541.90 367.69,542.39 368.96,542.88 370.22,543.36 371.49,543.84 372.76,544.32 374.03,544.80 375.29,545.26 376.56,545.73 377.83,546.19 379.10,546.65 380.36,547.10 381.63,547.55 382.90,548.00 384.17,548.44 385.43,548.88 386.70,549.31 387.97,549.74 389.24,550.17 390.50,550.59 391.77,551.01 393.04,551.42 394.31,551.84 395.57,552.24 396.84,552.64 398.11,553.04 399.38,553.44 400.64,553.83 401.91,554.21 403.18,554.60 404.45,554.98 405.71,555.35 406.98,555.72 408.25,556.09 409.52,556.45 410.78,556.81 412.05,557.16 413.32,557.51 414.59,557.86 415.85,558.20 417.12,558.54 418.39,558.88 419.66,559.21 420.92,559.54 422.19,559.86 423.46,560.18 424.73,560.50 425.99,560.81 427.26,561.12 428.53,561.42 429.80,561.72 431.06,562.02 432.33,562.31 433.60,562.60 434.87,562.89 436.13,563.17 437.40,563.45 438.67,563.73 439.94,564.00 441.20,564.26 442.47,564.53 443.74,564.79 445.01,565.05 446.27,565.30 447.54,565.55 448.81,565.80 450.08,566.04 451.34,566.28 452.61,566.52 453.88,566.75 455.15,566.98 456.41,567.21 457.68,567.43 458.95,567.65 460.22,567.87 461.48,568.08 462.75,568.29 464.02,568.50 465.29,568.70 466.55,568.90 467.82,569.10 469.09,569.30 470.36,569.49 471.62,569.68 472.89,569.86 474.16,570.05 475.43,570.23 476.69,570.41 477.96,570.58 479.23,570.75 480.50,570.92 481.76,571.09 483.03,571.25 484.30,571.42 485.57,571.57 486.83,571.73 488.10,571.89 489.37,572.04 490.64,572.19 491.90,572.33 493.17,572.48 494.44,572.62 495.71,572.76 496.97,572.90 498.24,573.03 499.51,573.17 500.78,573.30 502.04,573.43 503.31,573.56 504.58,573.68 505.85,573.81 507.11,573.93 508.38,574.05 509.65,574.16 510.92,574.28 512.18,574.39 513.45,574.51 514.72,574.62 515.99,574.73 517.25,574.83 518.52,574.94 519.79,575.04 521.06,575.15 522.32,575.25 523.59,575.35 524.86,575.45 526.12,575.54 527.39,575.64 528.66,575.73 529.93,575.83 531.19,575.92 532.46,576.01 533.73,576.10 535.00,576.19 536.27,576.28 537.53,576.37 538.80,576.45 540.07,576.54 541.34,576.62 542.60,576.70 543.87,576.79 545.14,576.87 546.40,576.95 547.67,577.03 548.94,577.11 550.21,577.19 551.48,577.27 552.74,577.34 554.01,577.42 555.28,577.50 556.55,577.57 557.81,577.65 559.08,577.73 560.35,577.80 561.62,577.88 562.88,577.95 564.15,578.02 565.42,578.10 566.69,578.17 567.95,578.25 569.22,578.32 570.49,578.39 571.76,578.47 573.02,578.54 574.29,578.61 575.56,578.69 576.83,578.76 578.09,578.83 579.36,578.91 580.63,578.98 581.90,579.05 583.16,579.13 584.43,579.20 585.70,579.28 586.97,579.35 588.23,579.43 589.50,579.50" stroke="#000" stroke-width="2.6" fill="none" stroke-linejoin="round"/>
<path d="M82.50,514.05h2" stroke="#000" stroke-width="1.3"/>
<path d="M82.50,514.05 L83.77,514.05 85.03,514.06 86.30,514.08 87.57,514.10 88.84,514.13 90.11,514.16 91.37,514.21 92.64,514.25 93.91,514.31 95.17,514.37 96.44,514.43 97.71,514.50 98.98,514.58 100.25,514.67 101.51,514.76 102.78,514.85 104.05,514.96 105.31,515.06 106.58,515.18 107.85,515.30 109.12,515.43 110.39,515.56 111.65,515.70 112.92,515.85 114.19,516.00 115.46,516.16 116.72,516.32 117.99,516.49 119.26,516.66 120.53,516.85 121.79,517.03 123.06,517.23 124.33,517.42 125.59,517.63 126.86,517.84 128.13,518.05 129.40,518.28 130.67,518.50 131.93,518.74 133.20,518.97 134.47,519.22 135.74,519.47 137.00,519.72 138.27,519.98 139.54,520.25 140.81,520.52 142.07,520.80 143.34,521.08 144.61,521.36 145.88,521.66 147.14,521.95 148.41,522.26 149.68,522.56 150.94,522.87 152.21,523.19 153.48,523.51 154.75,523.84 156.02,524.17 157.28,524.51 158.55,524.85 159.82,525.20 161.09,525.55 162.35,525.90 163.62,526.26 164.89,526.62 166.16,526.99 167.42,527.37 168.69,527.74 169.96,528.12 171.23,528.51 172.49,528.90 173.76,529.29 175.03,529.69 176.30,530.09 177.56,530.50 178.83,530.91 180.10,531.32 181.37,531.74 182.63,532.16 183.90,532.58 185.17,533.01 186.44,533.44 187.70,533.87 188.97,534.31 190.24,534.75 191.50,535.20 192.77,535.64 194.04,536.09 195.31,536.55 196.57,537.00 197.84,537.46 199.11,537.92 200.38,538.39 201.65,538.86 202.91,539.33 204.18,539.80 205.45,540.27 206.72,540.75 207.98,541.23 209.25,541.71 210.52,542.20 211.79,542.68 213.05,543.17 214.32,543.66 215.59,544.15 216.86,544.65 218.12,545.15 219.39,545.64 220.66,546.14 221.93,546.64 223.19,547.15 224.46,547.65 225.73,548.16 227.00,548.66 228.26,549.17 229.53,549.68 230.80,550.19 232.07,550.70 233.33,551.21 234.60,551.73 235.87,552.24 237.14,552.76 238.40,553.27 239.67,553.79 240.94,554.30 242.21,554.82 243.47,555.34 244.74,555.86 246.01,556.37 247.28,556.89 248.54,557.41 249.81,557.93 251.08,558.45 252.35,558.97 253.61,559.48 254.88,560.00 256.15,560.52 257.42,561.04 258.68,561.55 259.95,562.07 261.22,562.59 262.49,563.10 263.75,563.62 265.02,564.13 266.29,564.64 267.56,565.16 268.82,565.67 270.09,566.18 271.36,566.69 272.62,567.19 273.89,567.70 275.16,568.21 276.43,568.71 277.70,569.21 278.96,569.72 280.23,570.22 281.50,570.71 282.76,571.21 284.03,571.71 285.30,572.20 286.57,572.69 287.84,573.18 289.10,573.67 290.37,574.16 291.64,574.64 292.91,575.12 294.17,575.60 295.44,576.08 296.71,576.55 297.98,577.03 299.24,577.50 300.51,577.97 301.78,578.43 303.05,578.89 304.31,579.35 305.58,579.81 306.85,580.27 308.12,580.72 309.38,581.17 310.65,581.62 311.92,582.06 313.19,582.50 314.45,582.94 315.72,583.38 316.99,583.81 318.25,584.24 319.52,584.67 320.79,585.09 322.06,585.51 323.33,585.92 324.59,586.34 325.86,586.75 327.13,587.15 328.40,587.56 329.66,587.96 330.93,588.35 332.20,588.75 333.47,589.14 334.73,589.52 336.00,589.90 337.27,590.28 338.54,590.66 339.80,591.03 341.07,591.39 342.34,591.76 343.61,592.12 344.87,592.47 346.14,592.83 347.41,593.17 348.68,593.52 349.94,593.86 351.21,594.19 352.48,594.53 353.75,594.85 355.01,595.18 356.28,595.50 357.55,595.82 358.81,596.13 360.08,596.44 361.35,596.74 362.62,597.04 363.89,597.34 365.15,597.63 366.42,597.91 367.69,598.20 368.96,598.48 370.22,598.75 371.49,599.02 372.76,599.29 374.03,599.55 375.29,599.81 376.56,600.06 377.83,600.31 379.10,600.55 380.36,600.79 381.63,601.03 382.90,601.26 384.17,601.49 385.43,601.71 386.70,601.93 387.97,602.15 389.24,602.36 390.50,602.56 391.77,602.76 393.04,602.96 394.31,603.16 395.57,603.34 396.84,603.53 398.11,603.71 399.38,603.88 400.64,604.06 401.91,604.22 403.18,604.39 404.45,604.55 405.71,604.70 406.98,604.85 408.25,605.00 409.52,605.14 410.78,605.28 412.05,605.41 413.32,605.54 414.59,605.66 415.85,605.79 417.12,605.90 418.39,606.02 419.66,606.12 420.92,606.23 422.19,606.33 423.46,606.43 424.73,606.52 425.99,606.61 427.26,606.69 428.53,606.77 429.80,606.85 431.06,606.92 432.33,606.99 433.60,607.06 434.87,607.12 436.13,607.17 437.40,607.23 438.67,607.28 439.94,607.32 441.20,607.37 442.47,607.40 443.74,607.44 445.01,607.47 446.27,607.50 447.54,607.52 448.81,607.54 450.08,607.56 451.34,607.57 452.61,607.58 453.88,607.59 455.15,607.59 456.41,607.59 457.68,607.59 458.95,607.58 460.22,607.58 461.48,607.56 462.75,607.55 464.02,607.53 465.29,607.50 466.55,607.48 467.82,607.45 469.09,607.42 470.36,607.39 471.62,607.35 472.89,607.31 474.16,607.27 475.43,607.22 476.69,607.17 477.96,607.12 479.23,607.07 480.50,607.01 481.76,606.95 483.03,606.89 484.30,606.83 485.57,606.76 486.83,606.69 488.10,606.62 489.37,606.54 490.64,606.47 491.90,606.39 493.17,606.31 494.44,606.23 495.71,606.14 496.97,606.06 498.24,605.97 499.51,605.88 500.78,605.78 502.04,605.69 503.31,605.59 504.58,605.49 505.85,605.39 507.11,605.29 508.38,605.19 509.65,605.08 510.92,604.97 512.18,604.86 513.45,604.75 514.72,604.64 515.99,604.53 517.25,604.42 518.52,604.30 519.79,604.18 521.06,604.06 522.32,603.94 523.59,603.82 524.86,603.70 526.12,603.58 527.39,603.45 528.66,603.33 529.93,603.20 531.19,603.08 532.46,602.95 533.73,602.82 535.00,602.69 536.27,602.56 537.53,602.43 538.80,602.30 540.07,602.17 541.34,602.03 542.60,601.90 543.87,601.77 545.14,601.63 546.40,601.50 547.67,601.36 548.94,601.23 550.21,601.09 551.48,600.96 552.74,600.82 554.01,600.69 555.28,600.55 556.55,600.41 557.81,600.28 559.08,600.14 560.35,600.00 561.62,599.87 562.88,599.73 564.15,599.60 565.42,599.46 566.69,599.32 567.95,599.19 569.22,599.05 570.49,598.92 571.76,598.78 573.02,598.65 574.29,598.52 575.56,598.38 576.83,598.25 578.09,598.12 579.36,597.99 580.63,597.86 581.90,597.73 583.16,597.60 584.43,597.47 585.70,597.34 586.97,597.21 588.23,597.09 589.50,596.96" stroke="#000" stroke-width="1.3" fill="none" stroke-dasharray="9.7 5.98 2 5.97" stroke-dashoffset="-1.3"/>
<path d="M82.50,514.03 L83.77,514.03 85.03,514.03 86.30,514.03 87.57,514.04 88.84,514.04 90.11,514.05 91.37,514.06 92.64,514.06 93.91,514.07 95.17,514.09 96.44,514.10 97.71,514.11 98.98,514.13 100.25,514.14 101.51,514.16 102.78,514.18 104.05,514.20 105.31,514.22 106.58,514.24 107.85,514.27 109.12,514.29 110.39,514.32 111.65,514.34 112.92,514.37 114.19,514.40 115.46,514.43 116.72,514.46 117.99,514.49 119.26,514.53 120.53,514.56 121.79,514.60 123.06,514.64 124.33,514.68 125.59,514.72 126.86,514.76 128.13,514.80 129.40,514.84 130.67,514.89 131.93,514.93 133.20,514.98 134.47,515.03 135.74,515.08 137.00,515.13 138.27,515.18 139.54,515.23 140.81,515.29 142.07,515.34 143.34,515.40 144.61,515.46 145.88,515.51 147.14,515.57 148.41,515.64 149.68,515.70 150.94,515.76 152.21,515.82 153.48,515.89 154.75,515.96 156.02,516.02 157.28,516.09 158.55,516.16 159.82,516.23 161.09,516.31 162.35,516.38 163.62,516.46 164.89,516.53 166.16,516.61 167.42,516.69 168.69,516.76 169.96,516.85 171.23,516.93 172.49,517.01 173.76,517.09 175.03,517.18 176.30,517.26 177.56,517.35 178.83,517.44 180.10,517.53 181.37,517.62 182.63,517.71 183.90,517.80 185.17,517.89 186.44,517.99 187.70,518.08 188.97,518.18 190.24,518.28 191.50,518.38 192.77,518.48 194.04,518.58 195.31,518.68 196.57,518.78 197.84,518.89 199.11,518.99 200.38,519.10 201.65,519.21 202.91,519.32 204.18,519.42 205.45,519.54 206.72,519.65 207.98,519.76 209.25,519.87 210.52,519.99 211.79,520.10 213.05,520.22 214.32,520.34 215.59,520.46 216.86,520.58 218.12,520.70 219.39,520.82 220.66,520.94 221.93,521.07 223.19,521.19 224.46,521.32 225.73,521.44 227.00,521.57 228.26,521.70 229.53,521.83 230.80,521.96 232.07,522.09 233.33,522.22 234.60,522.36 235.87,522.49 237.14,522.63 238.40,522.76 239.67,522.90 240.94,523.04 242.21,523.18 243.47,523.32 244.74,523.46 246.01,523.60 247.28,523.74 248.54,523.89 249.81,524.03 251.08,524.18 252.35,524.33 253.61,524.47 254.88,524.62 256.15,524.77 257.42,524.92 258.68,525.07 259.95,525.22 261.22,525.38 262.49,525.53 263.75,525.68 265.02,525.84 266.29,526.00 267.56,526.15 268.82,526.31 270.09,526.47 271.36,526.63 272.62,526.79 273.89,526.95 275.16,527.11 276.43,527.28 277.70,527.44 278.96,527.61 280.23,527.77 281.50,527.94 282.76,528.10 284.03,528.27 285.30,528.44 286.57,528.61 287.84,528.78 289.10,528.95 290.37,529.12 291.64,529.30 292.91,529.47 294.17,529.64 295.44,529.82 296.71,529.99 297.98,530.17 299.24,530.35 300.51,530.52 301.78,530.70 303.05,530.88 304.31,531.06 305.58,531.24 306.85,531.42 308.12,531.61 309.38,531.79 310.65,531.97 311.92,532.16 313.19,532.34 314.45,532.53 315.72,532.71 316.99,532.90 318.25,533.09 319.52,533.28 320.79,533.46 322.06,533.65 323.33,533.84 324.59,534.04 325.86,534.23 327.13,534.42 328.40,534.61 329.66,534.80 330.93,535.00 332.20,535.19 333.47,535.39 334.73,535.58 336.00,535.78 337.27,535.98 338.54,536.17 339.80,536.37 341.07,536.57 342.34,536.77 343.61,536.97 344.87,537.17 346.14,537.37 347.41,537.57 348.68,537.77 349.94,537.98 351.21,538.18 352.48,538.38 353.75,538.59 355.01,538.79 356.28,539.00 357.55,539.20 358.81,539.41 360.08,539.61 361.35,539.82 362.62,540.03 363.89,540.23 365.15,540.44 366.42,540.65 367.69,540.86 368.96,541.07 370.22,541.28 371.49,541.49 372.76,541.70 374.03,541.91 375.29,542.12 376.56,542.34 377.83,542.55 379.10,542.76 380.36,542.98 381.63,543.19 382.90,543.40 384.17,543.62 385.43,543.83 386.70,544.05 387.97,544.26 389.24,544.48 390.50,544.70 391.77,544.91 393.04,545.13 394.31,545.35 395.57,545.56 396.84,545.78 398.11,546.00 399.38,546.22 400.64,546.44 401.91,546.66 403.18,546.88 404.45,547.10 405.71,547.32 406.98,547.54 408.25,547.76 409.52,547.98 410.78,548.20 412.05,548.42 413.32,548.64 414.59,548.86 415.85,549.09 417.12,549.31 418.39,549.53 419.66,549.75 420.92,549.98 422.19,550.20 423.46,550.42 424.73,550.65 425.99,550.87 427.26,551.09 428.53,551.32 429.80,551.54 431.06,551.77 432.33,551.99 433.60,552.21 434.87,552.44 436.13,552.66 437.40,552.89 438.67,553.11 439.94,553.34 441.20,553.57 442.47,553.79 443.74,554.02 445.01,554.24 446.27,554.47 447.54,554.69 448.81,554.92 450.08,555.15 451.34,555.37 452.61,555.60 453.88,555.82 455.15,556.05 456.41,556.28 457.68,556.50 458.95,556.73 460.22,556.96 461.48,557.18 462.75,557.41 464.02,557.64 465.29,557.86 466.55,558.09 467.82,558.32 469.09,558.54 470.36,558.77 471.62,558.99 472.89,559.22 474.16,559.45 475.43,559.67 476.69,559.90 477.96,560.13 479.23,560.35 480.50,560.58 481.76,560.81 483.03,561.03 484.30,561.26 485.57,561.48 486.83,561.71 488.10,561.93 489.37,562.16 490.64,562.39 491.90,562.61 493.17,562.84 494.44,563.06 495.71,563.29 496.97,563.51 498.24,563.74 499.51,563.96 500.78,564.18 502.04,564.41 503.31,564.63 504.58,564.86 505.85,565.08 507.11,565.30 508.38,565.53 509.65,565.75 510.92,565.97 512.18,566.20 513.45,566.42 514.72,566.64 515.99,566.86 517.25,567.09 518.52,567.31 519.79,567.53 521.06,567.75 522.32,567.97 523.59,568.19 524.86,568.41 526.12,568.63 527.39,568.85 528.66,569.07 529.93,569.29 531.19,569.51 532.46,569.73 533.73,569.95 535.00,570.17 536.27,570.38 537.53,570.60 538.80,570.82 540.07,571.04 541.34,571.25 542.60,571.47 543.87,571.69 545.14,571.90 546.40,572.12 547.67,572.33 548.94,572.55 550.21,572.76 551.48,572.98 552.74,573.19 554.01,573.40 555.28,573.62 556.55,573.83 557.81,574.04 559.08,574.25 560.35,574.46 561.62,574.68 562.88,574.89 564.15,575.10 565.42,575.31 566.69,575.52 567.95,575.72 569.22,575.93 570.49,576.14 571.76,576.35 573.02,576.56 574.29,576.76 575.56,576.97 576.83,577.18 578.09,577.38 579.36,577.59 580.63,577.79 581.90,577.99 583.16,578.20 584.43,578.40 585.70,578.60 586.97,578.81 588.23,579.01 589.50,579.21" stroke="#000" stroke-width="1.5" fill="none" stroke-dasharray="2 5.3556" stroke-dashoffset="-1.05"/>
<path d="M251.20,490.50a6,6 0 1,0 12,0a6,6 0 1,0 -12,0M257.20,488.50V492.50M253.70,488.50h7M253.70,492.50h7M260.20,497.20a6,6 0 1,0 12,0a6,6 0 1,0 -12,0M266.20,493.20V501.20M262.70,493.20h7M262.70,501.20h7M275.50,500.00a6,6 0 1,0 12,0a6,6 0 1,0 -12,0M281.50,498.00V502.00M278.00,498.00h7M278.00,502.00h7M277.50,501.00a6,6 0 1,0 12,0a6,6 0 1,0 -12,0M283.50,499.00V503.00M280.00,499.00h7M280.00,503.00h7M357.80,535.80a6,6 0 1,0 12,0a6,6 0 1,0 -12,0M363.80,531.80V539.80M360.30,531.80h7M360.30,539.80h7M362.70,552.00a6,6 0 1,0 12,0a6,6 0 1,0 -12,0M368.70,548.00V556.00M365.20,548.00h7M365.20,556.00h7M391.70,552.00a6,6 0 1,0 12,0a6,6 0 1,0 -12,0M397.70,545.30V558.70M394.20,545.30h7M394.20,558.70h7M417.20,556.20a6,6 0 1,0 12,0a6,6 0 1,0 -12,0M423.20,550.50V561.90M419.70,550.50h7M419.70,561.90h7M505.80,574.30a6,6 0 1,0 12,0a6,6 0 1,0 -12,0M511.80,563.80V584.80M508.30,563.80h7M508.30,584.80h7M518.00,569.00a6,6 0 1,0 12,0a6,6 0 1,0 -12,0M524.00,563.00V575.00M520.50,563.00h7M520.50,575.00h7M520.00,582.00a6,6 0 1,0 12,0a6,6 0 1,0 -12,0M526.00,574.50V589.50M522.50,574.50h7M522.50,589.50h7" stroke="#000" stroke-width="1.3" fill="none"/>
<path d="M45.23,591.70L43.31,592.29 42.03,594.04 41.39,596.96 41.39,598.71 42.03,601.63 43.31,603.38 45.23,603.97 46.51,603.97 48.43,603.38 49.72,601.63 50.36,598.71 50.36,596.96 49.72,594.04 48.43,592.29 46.51,591.70 45.23,591.70M55.48,602.80L54.84,603.38 55.48,603.97 56.12,603.38 55.48,602.80M64.45,591.70L62.53,592.29 61.25,594.04 60.61,596.96 60.61,598.71 61.25,601.63 62.53,603.38 64.45,603.97 65.73,603.97 67.66,603.38 68.94,601.63 69.58,598.71 69.58,596.96 68.94,594.04 67.66,592.29 65.73,591.70 64.45,591.70M45.23,540.04L43.31,540.62 42.03,542.37 41.39,545.29 41.39,547.04 42.03,549.96 43.31,551.72 45.23,552.30 46.51,552.30 48.43,551.72 49.72,549.96 50.36,547.04 50.36,545.29 49.72,542.37 48.43,540.62 46.51,540.04 45.23,540.04M55.48,551.13L54.84,551.72 55.48,552.30 56.12,551.72 55.48,551.13M61.25,542.96L61.25,542.37 61.89,541.20 62.53,540.62 63.81,540.04 66.37,540.04 67.66,540.62 68.30,541.20 68.94,542.37 68.94,543.54 68.30,544.71 67.02,546.46 60.61,552.30 69.58,552.30M45.23,488.37L43.31,488.95 42.03,490.71 41.39,493.63 41.39,495.38 42.03,498.30 43.31,500.05 45.23,500.63 46.51,500.63 48.43,500.05 49.72,498.30 50.36,495.38 50.36,493.63 49.72,490.71 48.43,488.95 46.51,488.37 45.23,488.37M55.48,499.47L54.84,500.05 55.48,500.63 56.12,500.05 55.48,499.47M67.02,488.37L60.61,496.55 70.22,496.55M67.02,488.37L67.02,500.63M45.23,436.70L43.31,437.29 42.03,439.04 41.39,441.96 41.39,443.71 42.03,446.63 43.31,448.38 45.23,448.97 46.51,448.97 48.43,448.38 49.72,446.63 50.36,443.71 50.36,441.96 49.72,439.04 48.43,437.29 46.51,436.70 45.23,436.70M55.48,447.80L54.84,448.38 55.48,448.97 56.12,448.38 55.48,447.80M68.94,438.45L68.30,437.29 66.37,436.70 65.09,436.70 63.17,437.29 61.89,439.04 61.25,441.96 61.25,444.88 61.89,447.21 63.17,448.38 65.09,448.97 65.73,448.97 67.66,448.38 68.94,447.21 69.58,445.46 69.58,444.88 68.94,443.13 67.66,441.96 65.73,441.37 65.09,441.37 63.17,441.96 61.89,443.13 61.25,444.88M45.23,385.04L43.31,385.62 42.03,387.37 41.39,390.29 41.39,392.04 42.03,394.96 43.31,396.72 45.23,397.30 46.51,397.30 48.43,396.72 49.72,394.96 50.36,392.04 50.36,390.29 49.72,387.37 48.43,385.62 46.51,385.04 45.23,385.04M55.48,396.13L54.84,396.72 55.48,397.30 56.12,396.72 55.48,396.13M63.81,385.04L61.89,385.62 61.25,386.79 61.25,387.96 61.89,389.12 63.17,389.71 65.73,390.29 67.66,390.88 68.94,392.04 69.58,393.21 69.58,394.96 68.94,396.13 68.30,396.72 66.37,397.30 63.81,397.30 61.89,396.72 61.25,396.13 60.61,394.96 60.61,393.21 61.25,392.04 62.53,390.88 64.45,390.29 67.02,389.71 68.30,389.12 68.94,387.96 68.94,386.79 68.30,385.62 66.37,385.04 63.81,385.04M43.31,335.71L44.59,335.12 46.51,333.37 46.51,345.63M55.48,344.47L54.84,345.05 55.48,345.63 56.12,345.05 55.48,344.47M64.45,333.37L62.53,333.95 61.25,335.71 60.61,338.63 60.61,340.38 61.25,343.30 62.53,345.05 64.45,345.63 65.73,345.63 67.66,345.05 68.94,343.30 69.58,340.38 69.58,338.63 68.94,335.71 67.66,333.95 65.73,333.37 64.45,333.37M0.84,514.16L13.10,509.03M0.84,503.91L13.10,509.03M1.42,501.35L2.00,500.70 1.42,500.06 0.84,500.70 1.42,501.35M4.92,500.70L13.10,500.70M6.68,489.17L5.51,489.81 4.92,491.73 4.92,493.66 5.51,495.58 6.68,496.22 7.84,495.58 8.43,494.30 9.01,491.09 9.60,489.81 10.76,489.17 11.35,489.17 12.52,489.81 13.10,491.73 13.10,493.66 12.52,495.58 11.35,496.22M1.42,485.33L2.00,484.69 1.42,484.05 0.84,484.69 1.42,485.33M4.92,484.69L13.10,484.69M0.84,479.56L13.10,479.56M6.68,479.56L5.51,478.28 4.92,477.00 4.92,475.08 5.51,473.80 6.68,472.51 8.43,471.87 9.60,471.87 11.35,472.51 12.52,473.80 13.10,475.08 13.10,477.00 12.52,478.28 11.35,479.56M1.42,468.03L2.00,467.39 1.42,466.75 0.84,467.39 1.42,468.03M4.92,467.39L13.10,467.39M0.84,462.26L13.10,462.26M1.42,457.78L2.00,457.14 1.42,456.50 0.84,457.14 1.42,457.78M4.92,457.14L13.10,457.14M0.84,450.73L13.10,450.73M4.92,453.29L4.92,448.17M4.92,445.60L13.10,441.76M4.92,437.92L17.48,443.81M351.09,383.64L351.09,392.98 350.45,394.73 349.81,395.32 348.53,395.90 347.24,395.90 345.96,395.32 345.32,394.73 344.68,392.98 344.68,391.81M356.21,387.72L356.21,393.56 356.85,395.32 358.14,395.90 360.06,395.90 361.34,395.32 363.26,393.56M363.26,387.72L363.26,395.90M368.39,387.72L368.39,395.90M368.39,390.06L370.31,388.31 371.59,387.72 373.51,387.72 374.79,388.31 375.44,390.06 375.44,395.90M379.92,391.23L387.61,391.23 387.61,390.06 386.97,388.89 386.33,388.31 385.05,387.72 383.12,387.72 381.84,388.31 380.56,389.48 379.92,391.23 379.92,392.40 380.56,394.15 381.84,395.32 383.12,395.90 385.05,395.90 386.33,395.32 387.61,394.15M402.34,386.56L402.34,385.97 402.99,384.80 403.63,384.22 404.91,383.64 407.47,383.64 408.75,384.22 409.39,384.80 410.03,385.97 410.03,387.14 409.39,388.31 408.11,390.06 401.70,395.90 410.67,395.90M418.36,383.64L416.44,384.22 415.16,385.97 414.52,388.89 414.52,390.64 415.16,393.56 416.44,395.32 418.36,395.90 419.64,395.90 421.57,395.32 422.85,393.56 423.49,390.64 423.49,388.89 422.85,385.97 421.57,384.22 419.64,383.64 418.36,383.64M431.18,383.64L429.25,384.22 427.97,385.97 427.33,388.89 427.33,390.64 427.97,393.56 429.25,395.32 431.18,395.90 432.46,395.90 434.38,395.32 435.66,393.56 436.30,390.64 436.30,388.89 435.66,385.97 434.38,384.22 432.46,383.64 431.18,383.64M443.35,383.64L441.43,384.22 440.79,385.39 440.79,386.56 441.43,387.72 442.71,388.31 445.27,388.89 447.19,389.48 448.47,390.64 449.12,391.81 449.12,393.56 448.47,394.73 447.83,395.32 445.91,395.90 443.35,395.90 441.43,395.32 440.79,394.73 440.15,393.56 440.15,391.81 440.79,390.64 442.07,389.48 443.99,388.89 446.55,388.31 447.83,387.72 448.47,386.56 448.47,385.39 447.83,384.22 445.91,383.64 443.35,383.64" stroke="#000" stroke-width="1.73" fill="none" stroke-linecap="round" stroke-linejoin="round"/>
<path d="M95.17,932.50v-3 M95.17,622.50v3 M107.85,932.50v-3 M107.85,622.50v3 M120.53,932.50v-3 M120.53,622.50v3 M133.20,932.50v-3 M133.20,622.50v3 M145.88,932.50v-3 M145.88,622.50v3 M158.55,932.50v-3 M158.55,622.50v3 M171.23,932.50v-3 M171.23,622.50v3 M183.90,932.50v-3 M183.90,622.50v3 M196.57,932.50v-3 M196.57,622.50v3 M209.25,932.50v-6 M209.25,622.50v6 M221.93,932.50v-3 M221.93,622.50v3 M234.60,932.50v-3 M234.60,622.50v3 M247.28,932.50v-3 M247.28,622.50v3 M259.95,932.50v-3 M259.95,622.50v3 M272.62,932.50v-3 M272.62,622.50v3 M285.30,932.50v-3 M285.30,622.50v3 M297.98,932.50v-3 M297.98,622.50v3 M310.65,932.50v-3 M310.65,622.50v3 M323.33,932.50v-3 M323.33,622.50v3 M336.00,932.50v-6 M336.00,622.50v6 M348.68,932.50v-3 M348.68,622.50v3 M361.35,932.50v-3 M361.35,622.50v3 M374.03,932.50v-3 M374.03,622.50v3 M386.70,932.50v-3 M386.70,622.50v3 M399.38,932.50v-3 M399.38,622.50v3 M412.05,932.50v-3 M412.05,622.50v3 M424.73,932.50v-3 M424.73,622.50v3 M437.40,932.50v-3 M437.40,622.50v3 M450.08,932.50v-3 M450.08,622.50v3 M462.75,932.50v-6 M462.75,622.50v6 M475.43,932.50v-3 M475.43,622.50v3 M488.10,932.50v-3 M488.10,622.50v3 M500.78,932.50v-3 M500.78,622.50v3 M513.45,932.50v-3 M513.45,622.50v3 M526.12,932.50v-3 M526.12,622.50v3 M538.80,932.50v-3 M538.80,622.50v3 M551.48,932.50v-3 M551.48,622.50v3 M564.15,932.50v-3 M564.15,622.50v3 M576.83,932.50v-3 M576.83,622.50v3 M82.50,919.58h5 M589.50,919.58h-5 M82.50,906.67h10 M589.50,906.67h-10 M82.50,893.75h5 M589.50,893.75h-5 M82.50,880.83h5 M589.50,880.83h-5 M82.50,867.92h5 M589.50,867.92h-5 M82.50,855.00h10 M589.50,855.00h-10 M82.50,842.08h5 M589.50,842.08h-5 M82.50,829.17h5 M589.50,829.17h-5 M82.50,816.25h5 M589.50,816.25h-5 M82.50,803.33h10 M589.50,803.33h-10 M82.50,790.42h5 M589.50,790.42h-5 M82.50,777.50h5 M589.50,777.50h-5 M82.50,764.58h5 M589.50,764.58h-5 M82.50,751.67h10 M589.50,751.67h-10 M82.50,738.75h5 M589.50,738.75h-5 M82.50,725.83h5 M589.50,725.83h-5 M82.50,712.92h5 M589.50,712.92h-5 M82.50,700.00h10 M589.50,700.00h-10 M82.50,687.08h5 M589.50,687.08h-5 M82.50,674.17h5 M589.50,674.17h-5 M82.50,661.25h5 M589.50,661.25h-5 M82.50,648.33h10 M589.50,648.33h-10 M82.50,635.42h5 M589.50,635.42h-5" stroke="#000" stroke-width="1.3" fill="none"/>
<rect x="82.5" y="622.5" width="507.0" height="310.0" stroke="#000" stroke-width="1.3" fill="none" stroke-linejoin="round"/>
<path d="M82.50,669.23 L83.77,669.24 85.03,669.27 86.30,669.31 87.57,669.38 88.84,669.46 90.11,669.56 91.37,669.68 92.64,669.81 93.91,669.97 95.17,670.14 96.44,670.33 97.71,670.54 98.98,670.76 100.25,671.00 101.51,671.27 102.78,671.54 104.05,671.84 105.31,672.16 106.58,672.49 107.85,672.84 109.12,673.20 110.39,673.59 111.65,673.99 112.92,674.41 114.19,674.84 115.46,675.30 116.72,675.77 117.99,676.25 119.26,676.76 120.53,677.28 121.79,677.82 123.06,678.37 124.33,678.94 125.59,679.53 126.86,680.13 128.13,680.75 129.40,681.38 130.67,682.03 131.93,682.70 133.20,683.38 134.47,684.08 135.74,684.79 137.00,685.52 138.27,686.26 139.54,687.02 140.81,687.79 142.07,688.58 143.34,689.38 144.61,690.20 145.88,691.03 147.14,691.87 148.41,692.73 149.68,693.60 150.94,694.49 152.21,695.38 153.48,696.30 154.75,697.22 156.02,698.16 157.28,699.11 158.55,700.07 159.82,701.05 161.09,702.04 162.35,703.04 163.62,704.05 164.89,705.07 166.16,706.11 167.42,707.15 168.69,708.21 169.96,709.28 171.23,710.36 172.49,711.45 173.76,712.55 175.03,713.66 176.30,714.77 177.56,715.90 178.83,717.04 180.10,718.19 181.37,719.35 182.63,720.51 183.90,721.69 185.17,722.87 186.44,724.06 187.70,725.26 188.97,726.47 190.24,727.69 191.50,728.91 192.77,730.14 194.04,731.37 195.31,732.62 196.57,733.87 197.84,735.12 199.11,736.39 200.38,737.65 201.65,738.93 202.91,740.21 204.18,741.49 205.45,742.78 206.72,744.08 207.98,745.38 209.25,746.68 210.52,747.99 211.79,749.30 213.05,750.61 214.32,751.93 215.59,753.25 216.86,754.58 218.12,755.91 219.39,757.24 220.66,758.57 221.93,759.90 223.19,761.24 224.46,762.58 225.73,763.92 227.00,765.26 228.26,766.60 229.53,767.94 230.80,769.29 232.07,770.63 233.33,771.98 234.60,773.32 235.87,774.66 237.14,776.01 238.40,777.35 239.67,778.69 240.94,780.03 242.21,781.37 243.47,782.71 244.74,784.05 246.01,785.38 247.28,786.71 248.54,788.04 249.81,789.37 251.08,790.69 252.35,792.02 253.61,793.33 254.88,794.65 256.15,795.96 257.42,797.27 258.68,798.57 259.95,799.87 261.22,801.17 262.49,802.46 263.75,803.75 265.02,805.03 266.29,806.31 267.56,807.58 268.82,808.84 270.09,810.11 271.36,811.36 272.62,812.61 273.89,813.85 275.16,815.09 276.43,816.32 277.70,817.55 278.96,818.76 280.23,819.97 281.50,821.18 282.76,822.37 284.03,823.56 285.30,824.75 286.57,825.92 287.84,827.09 289.10,828.24 290.37,829.40 291.64,830.54 292.91,831.67 294.17,832.80 295.44,833.92 296.71,835.02 297.98,836.12 299.24,837.22 300.51,838.30 301.78,839.37 303.05,840.43 304.31,841.49 305.58,842.53 306.85,843.57 308.12,844.59 309.38,845.61 310.65,846.62 311.92,847.61 313.19,848.60 314.45,849.57 315.72,850.54 316.99,851.50 318.25,852.44 319.52,853.38 320.79,854.30 322.06,855.21 323.33,856.12 324.59,857.01 325.86,857.89 327.13,858.76 328.40,859.62 329.66,860.47 330.93,861.31 332.20,862.13 333.47,862.95 334.73,863.75 336.00,864.55 337.27,865.33 338.54,866.10 339.80,866.86 341.07,867.61 342.34,868.35 343.61,869.07 344.87,869.79 346.14,870.49 347.41,871.18 348.68,871.86 349.94,872.53 351.21,873.19 352.48,873.84 353.75,874.47 355.01,875.09 356.28,875.71 357.55,876.31 358.81,876.90 360.08,877.47 361.35,878.04 362.62,878.59 363.89,879.14 365.15,879.67 366.42,880.19 367.69,880.70 368.96,881.20 370.22,881.69 371.49,882.17 372.76,882.63 374.03,883.09 375.29,883.53 376.56,883.96 377.83,884.38 379.10,884.80 380.36,885.20 381.63,885.59 382.90,885.96 384.17,886.33 385.43,886.69 386.70,887.04 387.97,887.37 389.24,887.70 390.50,888.02 391.77,888.32 393.04,888.62 394.31,888.90 395.57,889.18 396.84,889.45 398.11,889.70 399.38,889.95 400.64,890.19 401.91,890.41 403.18,890.63 404.45,890.84 405.71,891.04 406.98,891.23 408.25,891.41 409.52,891.58 410.78,891.75 412.05,891.90 413.32,892.05 414.59,892.18 415.85,892.31 417.12,892.43 418.39,892.55 419.66,892.65 420.92,892.75 422.19,892.84 423.46,892.92 424.73,892.99 425.99,893.06 427.26,893.11 428.53,893.17 429.80,893.21 431.06,893.25 432.33,893.28 433.60,893.30 434.87,893.32 436.13,893.33 437.40,893.33 438.67,893.33 439.94,893.32 441.20,893.30 442.47,893.28 443.74,893.25 445.01,893.22 446.27,893.18 447.54,893.14 448.81,893.09 450.08,893.04 451.34,892.98 452.61,892.92 453.88,892.85 455.15,892.78 456.41,892.70 457.68,892.62 458.95,892.53 460.22,892.44 461.48,892.35 462.75,892.25 464.02,892.15 465.29,892.04 466.55,891.94 467.82,891.82 469.09,891.71 470.36,891.59 471.62,891.47 472.89,891.35 474.16,891.22 475.43,891.10 476.69,890.96 477.96,890.83 479.23,890.70 480.50,890.56 481.76,890.42 483.03,890.28 484.30,890.14 485.57,890.00 486.83,889.85 488.10,889.71 489.37,889.56 490.64,889.41 491.90,889.26 493.17,889.11 494.44,888.96 495.71,888.81 496.97,888.66 498.24,888.51 499.51,888.36 500.78,888.21 502.04,888.06 503.31,887.91 504.58,887.76 505.85,887.61 507.11,887.46 508.38,887.31 509.65,887.16 510.92,887.01 512.18,886.87 513.45,886.72 514.72,886.58 515.99,886.44 517.25,886.30 518.52,886.16 519.79,886.02 521.06,885.88 522.32,885.75 523.59,885.61 524.86,885.48 526.12,885.36 527.39,885.23 528.66,885.11 529.93,884.98 531.19,884.86 532.46,884.75 533.73,884.63 535.00,884.52 536.27,884.41 537.53,884.31 538.80,884.20 540.07,884.10 541.34,884.01 542.60,883.91 543.87,883.82 545.14,883.73 546.40,883.65 547.67,883.57 548.94,883.49 550.21,883.42 551.48,883.35 552.74,883.28 554.01,883.22 555.28,883.16 556.55,883.10 557.81,883.05 559.08,883.00 560.35,882.95 561.62,882.91 562.88,882.88 564.15,882.84 565.42,882.82 566.69,882.79 567.95,882.77 569.22,882.75 570.49,882.74 571.76,882.73 573.02,882.73 574.29,882.73 575.56,882.73 576.83,882.74 578.09,882.76 579.36,882.77 580.63,882.80 581.90,882.82 583.16,882.85 584.43,882.89 585.70,882.93 586.97,882.97 588.23,883.02 589.50,883.07" stroke="#000" stroke-width="2.6" fill="none" stroke-linejoin="round"/>
<path d="M82.50,733.74h2" stroke="#000" stroke-width="1.3"/>
<path d="M82.50,733.74 L83.77,733.75 85.03,733.77 86.30,733.82 87.57,733.88 88.84,733.95 90.11,734.05 91.37,734.16 92.64,734.29 93.91,734.43 95.17,734.60 96.44,734.78 97.71,734.97 98.98,735.19 100.25,735.42 101.51,735.67 102.78,735.93 104.05,736.21 105.31,736.51 106.58,736.82 107.85,737.16 109.12,737.50 110.39,737.87 111.65,738.25 112.92,738.65 114.19,739.06 115.46,739.49 116.72,739.93 117.99,740.39 119.26,740.87 120.53,741.36 121.79,741.87 123.06,742.40 124.33,742.94 125.59,743.49 126.86,744.06 128.13,744.65 129.40,745.25 130.67,745.86 131.93,746.49 133.20,747.14 134.47,747.80 135.74,748.47 137.00,749.16 138.27,749.86 139.54,750.58 140.81,751.31 142.07,752.05 143.34,752.81 144.61,753.58 145.88,754.37 147.14,755.16 148.41,755.98 149.68,756.80 150.94,757.63 152.21,758.48 153.48,759.34 154.75,760.22 156.02,761.10 157.28,762.00 158.55,762.91 159.82,763.83 161.09,764.76 162.35,765.70 163.62,766.65 164.89,767.62 166.16,768.59 167.42,769.58 168.69,770.57 169.96,771.58 171.23,772.59 172.49,773.62 173.76,774.65 175.03,775.70 176.30,776.75 177.56,777.81 178.83,778.88 180.10,779.96 181.37,781.05 182.63,782.14 183.90,783.24 185.17,784.35 186.44,785.47 187.70,786.59 188.97,787.73 190.24,788.87 191.50,790.01 192.77,791.16 194.04,792.32 195.31,793.48 196.57,794.65 197.84,795.83 199.11,797.01 200.38,798.19 201.65,799.38 202.91,800.58 204.18,801.78 205.45,802.98 206.72,804.19 207.98,805.40 209.25,806.61 210.52,807.83 211.79,809.05 213.05,810.27 214.32,811.50 215.59,812.73 216.86,813.96 218.12,815.19 219.39,816.43 220.66,817.67 221.93,818.90 223.19,820.14 224.46,821.38 225.73,822.62 227.00,823.86 228.26,825.11 229.53,826.35 230.80,827.59 232.07,828.83 233.33,830.07 234.60,831.31 235.87,832.55 237.14,833.79 238.40,835.02 239.67,836.26 240.94,837.49 242.21,838.72 243.47,839.95 244.74,841.17 246.01,842.40 247.28,843.62 248.54,844.83 249.81,846.05 251.08,847.26 252.35,848.47 253.61,849.67 254.88,850.87 256.15,852.06 257.42,853.25 258.68,854.44 259.95,855.62 261.22,856.80 262.49,857.97 263.75,859.13 265.02,860.29 266.29,861.45 267.56,862.60 268.82,863.74 270.09,864.88 271.36,866.01 272.62,867.13 273.89,868.25 275.16,869.36 276.43,870.46 277.70,871.56 278.96,872.65 280.23,873.73 281.50,874.80 282.76,875.87 284.03,876.93 285.30,877.98 286.57,879.02 287.84,880.05 289.10,881.08 290.37,882.09 291.64,883.10 292.91,884.10 294.17,885.09 295.44,886.07 296.71,887.04 297.98,888.00 299.24,888.96 300.51,889.90 301.78,890.83 303.05,891.76 304.31,892.67 305.58,893.57 306.85,894.47 308.12,895.35 309.38,896.22 310.65,897.09 311.92,897.94 313.19,898.78 314.45,899.61 315.72,900.43 316.99,901.24 318.25,902.04 319.52,902.83 320.79,903.60 322.06,904.37 323.33,905.12 324.59,905.87 325.86,906.60 327.13,907.32 328.40,908.03 329.66,908.73 330.93,909.41 332.20,910.09 333.47,910.75 334.73,911.40 336.00,912.04 337.27,912.67 338.54,913.29 339.80,913.89 341.07,914.48 342.34,915.07 343.61,915.64 344.87,916.19 346.14,916.74 347.41,917.27 348.68,917.80 349.94,918.31 351.21,918.81 352.48,919.29 353.75,919.77 355.01,920.23 356.28,920.68 357.55,921.12 358.81,921.55 360.08,921.97 361.35,922.37 362.62,922.77 363.89,923.15 365.15,923.52 366.42,923.88 367.69,924.22 368.96,924.56 370.22,924.88 371.49,925.19 372.76,925.50 374.03,925.78 375.29,926.06 376.56,926.33 377.83,926.59 379.10,926.83 380.36,927.06 381.63,927.29 382.90,927.50 384.17,927.70 385.43,927.89 386.70,928.07 387.97,928.23 389.24,928.39 390.50,928.54 391.77,928.68 393.04,928.80 394.31,928.92 395.57,929.02 396.84,929.12 398.11,929.21 399.38,929.28 400.64,929.35 401.91,929.40 403.18,929.45 404.45,929.49 405.71,929.51 406.98,929.53 408.25,929.54 409.52,929.54 410.78,929.53 412.05,929.51 413.32,929.49 414.59,929.45 415.85,929.41 417.12,929.35 418.39,929.29 419.66,929.22 420.92,929.14 422.19,929.06 423.46,928.96 424.73,928.86 425.99,928.75 427.26,928.64 428.53,928.51 429.80,928.38 431.06,928.24 432.33,928.10 433.60,927.95 434.87,927.79 436.13,927.62 437.40,927.45 438.67,927.27 439.94,927.08 441.20,926.89 442.47,926.70 443.74,926.49 445.01,926.28 446.27,926.07 447.54,925.85 448.81,925.62 450.08,925.39 451.34,925.16 452.61,924.92 453.88,924.67 455.15,924.42 456.41,924.17 457.68,923.91 458.95,923.65 460.22,923.38 461.48,923.11 462.75,922.84 464.02,922.56 465.29,922.28 466.55,921.99 467.82,921.70 469.09,921.41 470.36,921.12 471.62,920.82 472.89,920.52 474.16,920.22 475.43,919.91 476.69,919.61 477.96,919.30 479.23,918.98 480.50,918.67 481.76,918.36 483.03,918.04 484.30,917.72 485.57,917.40 486.83,917.08 488.10,916.76 489.37,916.43 490.64,916.11 491.90,915.79 493.17,915.46 494.44,915.13 495.71,914.81 496.97,914.48 498.24,914.15 499.51,913.83 500.78,913.50 502.04,913.18 503.31,912.85 504.58,912.52 505.85,912.20 507.11,911.88 508.38,911.55 509.65,911.23 510.92,910.91 512.18,910.59 513.45,910.27 514.72,909.95 515.99,909.64 517.25,909.32 518.52,909.01 519.79,908.70 521.06,908.39 522.32,908.08 523.59,907.78 524.86,907.48 526.12,907.18 527.39,906.88 528.66,906.58 529.93,906.29 531.19,906.00 532.46,905.71 533.73,905.43 535.00,905.14 536.27,904.86 537.53,904.59 538.80,904.32 540.07,904.05 541.34,903.78 542.60,903.52 543.87,903.26 545.14,903.00 546.40,902.75 547.67,902.50 548.94,902.25 550.21,902.01 551.48,901.77 552.74,901.54 554.01,901.31 555.28,901.08 556.55,900.86 557.81,900.64 559.08,900.43 560.35,900.22 561.62,900.01 562.88,899.81 564.15,899.62 565.42,899.42 566.69,899.23 567.95,899.05 569.22,898.87 570.49,898.70 571.76,898.53 573.02,898.36 574.29,898.20 575.56,898.04 576.83,897.89 578.09,897.74 579.36,897.60 580.63,897.46 581.90,897.33 583.16,897.20 584.43,897.08 585.70,896.96 586.97,896.84 588.23,896.73 589.50,896.63" stroke="#000" stroke-width="1.3" fill="none" stroke-dasharray="9.7 5.98 2 5.97" stroke-dashoffset="-1.3"/>
<path d="M82.50,842.16 L83.77,842.16 85.03,842.16 86.30,842.17 87.57,842.17 88.84,842.17 90.11,842.18 91.37,842.18 92.64,842.19 93.91,842.20 95.17,842.21 96.44,842.22 97.71,842.23 98.98,842.24 100.25,842.25 101.51,842.27 102.78,842.28 104.05,842.30 105.31,842.31 106.58,842.33 107.85,842.35 109.12,842.37 110.39,842.39 111.65,842.41 112.92,842.43 114.19,842.45 115.46,842.48 116.72,842.50 117.99,842.53 119.26,842.55 120.53,842.58 121.79,842.61 123.06,842.64 124.33,842.67 125.59,842.70 126.86,842.73 128.13,842.77 129.40,842.80 130.67,842.84 131.93,842.87 133.20,842.91 134.47,842.95 135.74,842.98 137.00,843.02 138.27,843.06 139.54,843.11 140.81,843.15 142.07,843.19 143.34,843.23 144.61,843.28 145.88,843.33 147.14,843.37 148.41,843.42 149.68,843.47 150.94,843.52 152.21,843.57 153.48,843.62 154.75,843.67 156.02,843.72 157.28,843.78 158.55,843.83 159.82,843.89 161.09,843.95 162.35,844.00 163.62,844.06 164.89,844.12 166.16,844.18 167.42,844.24 168.69,844.30 169.96,844.37 171.23,844.43 172.49,844.49 173.76,844.56 175.03,844.63 176.30,844.69 177.56,844.76 178.83,844.83 180.10,844.90 181.37,844.97 182.63,845.04 183.90,845.11 185.17,845.19 186.44,845.26 187.70,845.34 188.97,845.41 190.24,845.49 191.50,845.56 192.77,845.64 194.04,845.72 195.31,845.80 196.57,845.88 197.84,845.96 199.11,846.05 200.38,846.13 201.65,846.21 202.91,846.30 204.18,846.38 205.45,846.47 206.72,846.56 207.98,846.65 209.25,846.73 210.52,846.82 211.79,846.91 213.05,847.01 214.32,847.10 215.59,847.19 216.86,847.28 218.12,847.38 219.39,847.47 220.66,847.57 221.93,847.67 223.19,847.76 224.46,847.86 225.73,847.96 227.00,848.06 228.26,848.16 229.53,848.26 230.80,848.37 232.07,848.47 233.33,848.57 234.60,848.68 235.87,848.78 237.14,848.89 238.40,848.99 239.67,849.10 240.94,849.21 242.21,849.32 243.47,849.43 244.74,849.54 246.01,849.65 247.28,849.76 248.54,849.87 249.81,849.99 251.08,850.10 252.35,850.22 253.61,850.33 254.88,850.45 256.15,850.56 257.42,850.68 258.68,850.80 259.95,850.92 261.22,851.04 262.49,851.16 263.75,851.28 265.02,851.40 266.29,851.52 267.56,851.65 268.82,851.77 270.09,851.89 271.36,852.02 272.62,852.14 273.89,852.27 275.16,852.40 276.43,852.52 277.70,852.65 278.96,852.78 280.23,852.91 281.50,853.04 282.76,853.17 284.03,853.30 285.30,853.43 286.57,853.57 287.84,853.70 289.10,853.83 290.37,853.97 291.64,854.10 292.91,854.24 294.17,854.38 295.44,854.51 296.71,854.65 297.98,854.79 299.24,854.93 300.51,855.06 301.78,855.20 303.05,855.34 304.31,855.48 305.58,855.63 306.85,855.77 308.12,855.91 309.38,856.05 310.65,856.20 311.92,856.34 313.19,856.49 314.45,856.63 315.72,856.78 316.99,856.92 318.25,857.07 319.52,857.22 320.79,857.36 322.06,857.51 323.33,857.66 324.59,857.81 325.86,857.96 327.13,858.11 328.40,858.26 329.66,858.41 330.93,858.56 332.20,858.71 333.47,858.87 334.73,859.02 336.00,859.17 337.27,859.33 338.54,859.48 339.80,859.64 341.07,859.79 342.34,859.95 343.61,860.10 344.87,860.26 346.14,860.42 347.41,860.57 348.68,860.73 349.94,860.89 351.21,861.05 352.48,861.21 353.75,861.37 355.01,861.53 356.28,861.69 357.55,861.85 358.81,862.01 360.08,862.17 361.35,862.33 362.62,862.49 363.89,862.66 365.15,862.82 366.42,862.98 367.69,863.15 368.96,863.31 370.22,863.47 371.49,863.64 372.76,863.80 374.03,863.97 375.29,864.13 376.56,864.30 377.83,864.47 379.10,864.63 380.36,864.80 381.63,864.97 382.90,865.13 384.17,865.30 385.43,865.47 386.70,865.64 387.97,865.81 389.24,865.97 390.50,866.14 391.77,866.31 393.04,866.48 394.31,866.65 395.57,866.82 396.84,866.99 398.11,867.16 399.38,867.33 400.64,867.51 401.91,867.68 403.18,867.85 404.45,868.02 405.71,868.19 406.98,868.36 408.25,868.54 409.52,868.71 410.78,868.88 412.05,869.05 413.32,869.23 414.59,869.40 415.85,869.57 417.12,869.75 418.39,869.92 419.66,870.10 420.92,870.27 422.19,870.45 423.46,870.62 424.73,870.79 425.99,870.97 427.26,871.14 428.53,871.32 429.80,871.49 431.06,871.67 432.33,871.85 433.60,872.02 434.87,872.20 436.13,872.37 437.40,872.55 438.67,872.72 439.94,872.90 441.20,873.08 442.47,873.25 443.74,873.43 445.01,873.61 446.27,873.78 447.54,873.96 448.81,874.13 450.08,874.31 451.34,874.49 452.61,874.66 453.88,874.84 455.15,875.02 456.41,875.20 457.68,875.37 458.95,875.55 460.22,875.73 461.48,875.90 462.75,876.08 464.02,876.26 465.29,876.43 466.55,876.61 467.82,876.79 469.09,876.96 470.36,877.14 471.62,877.32 472.89,877.50 474.16,877.67 475.43,877.85 476.69,878.03 477.96,878.20 479.23,878.38 480.50,878.56 481.76,878.73 483.03,878.91 484.30,879.09 485.57,879.26 486.83,879.44 488.10,879.62 489.37,879.79 490.64,879.97 491.90,880.14 493.17,880.32 494.44,880.50 495.71,880.67 496.97,880.85 498.24,881.02 499.51,881.20 500.78,881.37 502.04,881.55 503.31,881.72 504.58,881.90 505.85,882.07 507.11,882.25 508.38,882.42 509.65,882.60 510.92,882.77 512.18,882.94 513.45,883.12 514.72,883.29 515.99,883.47 517.25,883.64 518.52,883.81 519.79,883.99 521.06,884.16 522.32,884.33 523.59,884.50 524.86,884.68 526.12,884.85 527.39,885.02 528.66,885.19 529.93,885.36 531.19,885.53 532.46,885.70 533.73,885.88 535.00,886.05 536.27,886.22 537.53,886.39 538.80,886.56 540.07,886.73 541.34,886.89 542.60,887.06 543.87,887.23 545.14,887.40 546.40,887.57 547.67,887.74 548.94,887.90 550.21,888.07 551.48,888.24 552.74,888.41 554.01,888.57 555.28,888.74 556.55,888.91 557.81,889.07 559.08,889.24 560.35,889.40 561.62,889.57 562.88,889.73 564.15,889.89 565.42,890.06 566.69,890.22 567.95,890.39 569.22,890.55 570.49,890.71 571.76,890.87 573.02,891.04 574.29,891.20 575.56,891.36 576.83,891.52 578.09,891.68 579.36,891.84 580.63,892.00 581.90,892.16 583.16,892.32 584.43,892.48 585.70,892.63 586.97,892.79 588.23,892.95 589.50,893.11" stroke="#000" stroke-width="1.5" fill="none" stroke-dasharray="2 5.3556" stroke-dashoffset="-1.05"/>
<path d="M268.00,802.70L279.40,814.10M268.00,814.10L279.40,802.70M273.70,802.90V813.90M270.20,802.90h7M270.20,813.90h7M308.00,841.60L319.40,853.00M308.00,853.00L319.40,841.60M313.70,845.30V849.30M310.20,845.30h7M310.20,849.30h7M308.30,853.00L319.70,864.40M308.30,864.40L319.70,853.00M314.00,853.20V864.20M310.50,853.20h7M310.50,864.20h7M354.10,869.80L365.50,881.20M354.10,881.20L365.50,869.80M359.80,873.50V877.50M356.30,873.50h7M356.30,877.50h7M448.20,888.50L459.60,899.90M448.20,899.90L459.60,888.50M453.90,888.70V899.70M450.40,888.70h7M450.40,899.70h7" stroke="#000" stroke-width="1.3" fill="none"/>
<path d="M45.23,901.70L43.31,902.29 42.03,904.04 41.39,906.96 41.39,908.71 42.03,911.63 43.31,913.38 45.23,913.97 46.51,913.97 48.43,913.38 49.72,911.63 50.36,908.71 50.36,906.96 49.72,904.04 48.43,902.29 46.51,901.70 45.23,901.70M55.48,912.80L54.84,913.38 55.48,913.97 56.12,913.38 55.48,912.80M64.45,901.70L62.53,902.29 61.25,904.04 60.61,906.96 60.61,908.71 61.25,911.63 62.53,913.38 64.45,913.97 65.73,913.97 67.66,913.38 68.94,911.63 69.58,908.71 69.58,906.96 68.94,904.04 67.66,902.29 65.73,901.70 64.45,901.70M45.23,850.04L43.31,850.62 42.03,852.37 41.39,855.29 41.39,857.04 42.03,859.96 43.31,861.72 45.23,862.30 46.51,862.30 48.43,861.72 49.72,859.96 50.36,857.04 50.36,855.29 49.72,852.37 48.43,850.62 46.51,850.04 45.23,850.04M55.48,861.13L54.84,861.72 55.48,862.30 56.12,861.72 55.48,861.13M61.25,852.96L61.25,852.37 61.89,851.20 62.53,850.62 63.81,850.04 66.37,850.04 67.66,850.62 68.30,851.20 68.94,852.37 68.94,853.54 68.30,854.71 67.02,856.46 60.61,862.30 69.58,862.30M45.23,798.37L43.31,798.95 42.03,800.71 41.39,803.63 41.39,805.38 42.03,808.30 43.31,810.05 45.23,810.63 46.51,810.63 48.43,810.05 49.72,808.30 50.36,805.38 50.36,803.63 49.72,800.71 48.43,798.95 46.51,798.37 45.23,798.37M55.48,809.47L54.84,810.05 55.48,810.63 56.12,810.05 55.48,809.47M67.02,798.37L60.61,806.55 70.22,806.55M67.02,798.37L67.02,810.63M45.23,746.70L43.31,747.29 42.03,749.04 41.39,751.96 41.39,753.71 42.03,756.63 43.31,758.38 45.23,758.97 46.51,758.97 48.43,758.38 49.72,756.63 50.36,753.71 50.36,751.96 49.72,749.04 48.43,747.29 46.51,746.70 45.23,746.70M55.48,757.80L54.84,758.38 55.48,758.97 56.12,758.38 55.48,757.80M68.94,748.45L68.30,747.29 66.37,746.70 65.09,746.70 63.17,747.29 61.89,749.04 61.25,751.96 61.25,754.88 61.89,757.21 63.17,758.38 65.09,758.97 65.73,758.97 67.66,758.38 68.94,757.21 69.58,755.46 69.58,754.88 68.94,753.13 67.66,751.96 65.73,751.37 65.09,751.37 63.17,751.96 61.89,753.13 61.25,754.88M45.23,695.04L43.31,695.62 42.03,697.37 41.39,700.29 41.39,702.04 42.03,704.96 43.31,706.72 45.23,707.30 46.51,707.30 48.43,706.72 49.72,704.96 50.36,702.04 50.36,700.29 49.72,697.37 48.43,695.62 46.51,695.04 45.23,695.04M55.48,706.13L54.84,706.72 55.48,707.30 56.12,706.72 55.48,706.13M63.81,695.04L61.89,695.62 61.25,696.79 61.25,697.96 61.89,699.12 63.17,699.71 65.73,700.29 67.66,700.88 68.94,702.04 69.58,703.21 69.58,704.96 68.94,706.13 68.30,706.72 66.37,707.30 63.81,707.30 61.89,706.72 61.25,706.13 60.61,704.96 60.61,703.21 61.25,702.04 62.53,700.88 64.45,700.29 67.02,699.71 68.30,699.12 68.94,697.96 68.94,696.79 68.30,695.62 66.37,695.04 63.81,695.04M43.31,645.71L44.59,645.12 46.51,643.37 46.51,655.63M55.48,654.47L54.84,655.05 55.48,655.63 56.12,655.05 55.48,654.47M64.45,643.37L62.53,643.95 61.25,645.71 60.61,648.63 60.61,650.38 61.25,653.30 62.53,655.05 64.45,655.63 65.73,655.63 67.66,655.05 68.94,653.30 69.58,650.38 69.58,648.63 68.94,645.71 67.66,643.95 65.73,643.37 64.45,643.37M0.84,824.96L13.10,819.83M0.84,814.71L13.10,819.83M1.42,812.15L2.00,811.50 1.42,810.86 0.84,811.50 1.42,812.15M4.92,811.50L13.10,811.50M6.68,799.97L5.51,800.61 4.92,802.53 4.92,804.46 5.51,806.38 6.68,807.02 7.84,806.38 8.43,805.10 9.01,801.89 9.60,800.61 10.76,799.97 11.35,799.97 12.52,800.61 13.10,802.53 13.10,804.46 12.52,806.38 11.35,807.02M1.42,796.13L2.00,795.49 1.42,794.85 0.84,795.49 1.42,796.13M4.92,795.49L13.10,795.49M0.84,790.36L13.10,790.36M6.68,790.36L5.51,789.08 4.92,787.80 4.92,785.88 5.51,784.60 6.68,783.31 8.43,782.67 9.60,782.67 11.35,783.31 12.52,784.60 13.10,785.88 13.10,787.80 12.52,789.08 11.35,790.36M1.42,778.83L2.00,778.19 1.42,777.55 0.84,778.19 1.42,778.83M4.92,778.19L13.10,778.19M0.84,773.06L13.10,773.06M1.42,768.58L2.00,767.94 1.42,767.30 0.84,767.94 1.42,768.58M4.92,767.94L13.10,767.94M0.84,761.53L13.10,761.53M4.92,764.09L4.92,758.97M4.92,756.40L13.10,752.56M4.92,748.72L17.48,754.61M351.09,693.64L351.09,702.98 350.45,704.73 349.81,705.32 348.53,705.90 347.24,705.90 345.96,705.32 345.32,704.73 344.68,702.98 344.68,701.81M363.26,697.72L363.26,705.90M363.26,699.48L361.98,698.31 360.70,697.72 358.78,697.72 357.50,698.31 356.21,699.48 355.57,701.23 355.57,702.40 356.21,704.15 357.50,705.32 358.78,705.90 360.70,705.90 361.98,705.32 363.26,704.15M368.39,697.72L368.39,705.90M368.39,700.06L370.31,698.31 371.59,697.72 373.51,697.72 374.79,698.31 375.44,700.06 375.44,705.90M381.20,704.73L380.56,705.32 381.20,705.90 381.84,705.32 381.20,704.73M397.22,696.56L397.22,695.97 397.86,694.80 398.50,694.22 399.78,693.64 402.34,693.64 403.63,694.22 404.27,694.80 404.91,695.97 404.91,697.14 404.27,698.31 402.99,700.06 396.58,705.90 405.55,705.90M413.24,693.64L411.31,694.22 410.03,695.97 409.39,698.89 409.39,700.64 410.03,703.56 411.31,705.32 413.24,705.90 414.52,705.90 416.44,705.32 417.72,703.56 418.36,700.64 418.36,698.89 417.72,695.97 416.44,694.22 414.52,693.64 413.24,693.64M426.05,693.64L424.13,694.22 422.85,695.97 422.21,698.89 422.21,700.64 422.85,703.56 424.13,705.32 426.05,705.90 427.33,705.90 429.25,705.32 430.54,703.56 431.18,700.64 431.18,698.89 430.54,695.97 429.25,694.22 427.33,693.64 426.05,693.64M443.35,697.72L442.71,699.48 441.43,700.64 439.50,701.23 438.86,701.23 436.94,700.64 435.66,699.48 435.02,697.72 435.02,697.14 435.66,695.39 436.94,694.22 438.86,693.64 439.50,693.64 441.43,694.22 442.71,695.39 443.35,697.72 443.35,700.64 442.71,703.56 441.43,705.32 439.50,705.90 438.22,705.90 436.30,705.32 435.66,704.15" stroke="#000" stroke-width="1.73" fill="none" stroke-linecap="round" stroke-linejoin="round"/>
<path d="M79.76,942.84L77.84,943.42 76.56,945.17 75.92,948.09 75.92,949.84 76.56,952.76 77.84,954.52 79.76,955.10 81.04,955.10 82.96,954.52 84.24,952.76 84.88,949.84 84.88,948.09 84.24,945.17 82.96,943.42 81.04,942.84 79.76,942.84M198.78,945.17L200.06,944.59 201.98,942.84 201.98,955.10M213.52,942.84L211.59,943.42 210.31,945.17 209.67,948.09 209.67,949.84 210.31,952.76 211.59,954.52 213.52,955.10 214.80,955.10 216.72,954.52 218.00,952.76 218.64,949.84 218.64,948.09 218.00,945.17 216.72,943.42 214.80,942.84 213.52,942.84M324.25,945.76L324.25,945.17 324.89,944.00 325.53,943.42 326.81,942.84 329.37,942.84 330.66,943.42 331.30,944.00 331.94,945.17 331.94,946.34 331.30,947.51 330.02,949.26 323.61,955.10 332.58,955.10M340.27,942.84L338.34,943.42 337.06,945.17 336.42,948.09 336.42,949.84 337.06,952.76 338.34,954.52 340.27,955.10 341.55,955.10 343.47,954.52 344.75,952.76 345.39,949.84 345.39,948.09 344.75,945.17 343.47,943.42 341.55,942.84 340.27,942.84M451.64,942.84L458.69,942.84 454.84,947.51 456.77,947.51 458.05,948.09 458.69,948.68 459.33,950.43 459.33,951.60 458.69,953.35 457.41,954.52 455.48,955.10 453.56,955.10 451.64,954.52 451.00,953.93 450.36,952.76M467.02,942.84L465.09,943.42 463.81,945.17 463.17,948.09 463.17,949.84 463.81,952.76 465.09,954.52 467.02,955.10 468.30,955.10 470.22,954.52 471.50,952.76 472.14,949.84 472.14,948.09 471.50,945.17 470.22,943.42 468.30,942.84 467.02,942.84M583.52,942.84L577.11,951.01 586.72,951.01M583.52,942.84L583.52,955.10M593.77,942.84L591.84,943.42 590.56,945.17 589.92,948.09 589.92,949.84 590.56,952.76 591.84,954.52 593.77,955.10 595.05,955.10 596.97,954.52 598.25,952.76 598.89,949.84 598.89,948.09 598.25,945.17 596.97,943.42 595.05,942.84 593.77,942.84M210.49,979.29L209.21,978.12 207.29,977.54 204.73,977.54 202.80,978.12 201.52,979.29 201.52,980.46 202.16,981.62 202.80,982.21 204.08,982.79 207.93,983.96 209.21,984.54 209.85,985.13 210.49,986.30 210.49,988.05 209.21,989.22 207.29,989.80 204.73,989.80 202.80,989.22 201.52,988.05M214.98,977.54L214.98,989.80M214.98,977.54L221.70,977.54M214.98,983.38L220.10,983.38M226.51,977.54L226.51,986.30 227.15,988.05 228.43,989.22 230.35,989.80 231.63,989.80 233.56,989.22 234.84,988.05 235.48,986.30 235.48,977.54M253.05,975.20L251.77,976.37 250.48,978.12 249.20,980.46 248.56,983.38 248.56,985.71 249.20,988.63 250.48,990.97 251.77,992.72 253.05,993.89M256.89,981.62L263.94,989.80M263.94,981.62L256.89,989.80M269.71,979.87L270.99,979.29 272.91,977.54 272.91,989.80M284.44,977.54L282.52,978.12 281.24,979.87 280.60,982.79 280.60,984.54 281.24,987.46 282.52,989.22 284.44,989.80 285.72,989.80 287.65,989.22 288.93,987.46 289.57,984.54 289.57,982.79 288.93,979.87 287.65,978.12 285.72,977.54 284.44,977.54M297.76,973.00L293.79,973.00 293.39,976.26 293.79,975.89 294.98,975.53 296.17,975.53 297.36,975.89 298.16,976.62 298.55,977.70 298.55,978.43 298.16,979.51 297.36,980.24 296.17,980.60 294.98,980.60 293.79,980.24 293.39,979.88 292.99,979.15M318.11,983.38L316.83,982.21 315.55,981.62 313.63,981.62 312.34,982.21 311.06,983.38 310.42,985.13 310.42,986.30 311.06,988.05 312.34,989.22 313.63,989.80 315.55,989.80 316.83,989.22 318.11,988.05M321.31,981.62L325.16,989.80M329.00,981.62L323.11,994.18M339.89,983.38L338.61,982.21 337.33,981.62 335.41,981.62 334.13,982.21 332.85,983.38 332.21,985.13 332.21,986.30 332.85,988.05 334.13,989.22 335.41,989.80 337.33,989.80 338.61,989.22 339.89,988.05M344.38,977.54L344.38,989.80M348.86,985.13L356.55,985.13 356.55,983.96 355.91,982.79 355.27,982.21 353.99,981.62 352.07,981.62 350.79,982.21 349.50,983.38 348.86,985.13 348.86,986.30 349.50,988.05 350.79,989.22 352.07,989.80 353.99,989.80 355.27,989.22 356.55,988.05M367.44,983.38L366.80,982.21 364.88,981.62 362.96,981.62 361.04,982.21 360.40,983.38 361.04,984.54 362.32,985.13 365.52,985.71 366.80,986.30 367.44,987.46 367.44,988.05 366.80,989.22 364.88,989.80 362.96,989.80 361.04,989.22 360.40,988.05M382.18,975.20L370.65,993.89M386.02,981.62L386.02,989.80M386.02,985.13L386.67,983.38 387.95,982.21 389.23,981.62 391.15,981.62M401.40,981.62L401.40,989.80M401.40,983.38L400.12,982.21 398.84,981.62 396.92,981.62 395.64,982.21 394.35,983.38 393.71,985.13 393.71,986.30 394.35,988.05 395.64,989.22 396.92,989.80 398.84,989.80 400.12,989.22 401.40,988.05M413.57,977.54L413.57,989.80M413.57,983.38L412.29,982.21 411.01,981.62 409.09,981.62 407.81,982.21 406.53,983.38 405.89,985.13 405.89,986.30 406.53,988.05 407.81,989.22 409.09,989.80 411.01,989.80 412.29,989.22 413.57,988.05M418.06,978.12L418.70,978.70 419.34,978.12 418.70,977.54 418.06,978.12M418.70,981.62L418.70,989.80M430.87,981.62L430.87,989.80M430.87,983.38L429.59,982.21 428.31,981.62 426.39,981.62 425.11,982.21 423.83,983.38 423.19,985.13 423.19,986.30 423.83,988.05 425.11,989.22 426.39,989.80 428.31,989.80 429.59,989.22 430.87,988.05M436.00,981.62L436.00,989.80M436.00,983.96L437.92,982.21 439.20,981.62 441.12,981.62 442.41,982.21 443.05,983.96 443.05,989.80M447.53,975.20L448.81,976.37 450.09,978.12 451.38,980.46 452.02,983.38 452.02,985.71 451.38,988.63 450.09,990.97 448.81,992.72 447.53,993.89" stroke="#000" stroke-width="1.73" fill="none" stroke-linecap="round" stroke-linejoin="round"/>
</svg></body></html>
